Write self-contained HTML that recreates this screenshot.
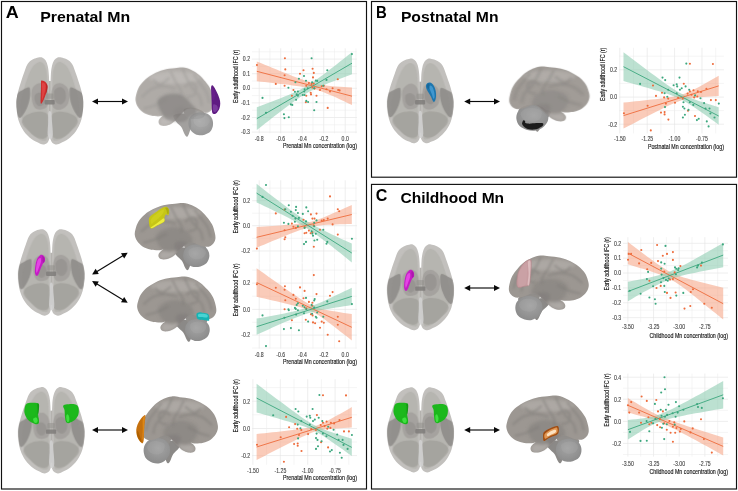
<!DOCTYPE html>
<html><head><meta charset="utf-8"><title>Figure</title>
<style>
html,body{margin:0;padding:0;background:#fff;}
body{width:738px;height:491px;overflow:hidden;font-family:"Liberation Sans",sans-serif;}
svg{display:block;}
text{font-family:"Liberation Sans",sans-serif;opacity:0.999;}
.tk{font-size:6.3px;fill:#444;stroke:#444;stroke-width:0.12px;}
.ax{font-size:6.8px;fill:#111;stroke:#111;stroke-width:0.14px;}
.ttl{font-weight:bold;fill:#000;}
</style></head><body>
<svg width="738" height="491" viewBox="0 0 738 491">
<defs>
<filter id="b1" x="-10%" y="-10%" width="120%" height="120%"><feGaussianBlur stdDeviation="0.45"/></filter>
<filter id="b2" x="-20%" y="-20%" width="140%" height="140%"><feGaussianBlur stdDeviation="1.1"/></filter>
<filter id="b3" x="-30%" y="-30%" width="160%" height="160%"><feGaussianBlur stdDeviation="2.2"/></filter>
<filter id="bb2" x="-10%" y="-10%" width="120%" height="120%"><feGaussianBlur stdDeviation="3"/></filter>
<filter id="bb25" x="-20%" y="-20%" width="140%" height="140%"><feGaussianBlur stdDeviation="5.5"/></filter>
<filter id="bb3" x="-30%" y="-30%" width="160%" height="160%"><feGaussianBlur stdDeviation="11"/></filter>
<filter id="bt" x="-5%" y="-5%" width="110%" height="110%"><feGaussianBlur stdDeviation="0.25"/></filter>
<radialGradient id="cbg" cx="0.45" cy="0.4" r="0.7"><stop offset="0" stop-color="#a4a4a4"/><stop offset="1" stop-color="#888888"/></radialGradient>
</defs>
<rect x="0" y="0" width="738" height="491" fill="#fff"/>

<g fill="none" stroke="#111" stroke-width="1.15">
<rect x="1.5" y="1.5" width="365" height="487.5"/>
<rect x="371.5" y="1.5" width="365" height="175.7"/>
<rect x="371.5" y="184.4" width="365" height="304.6"/>
</g>
<text class="ttl" x="5.7" y="18.4" font-size="15.8" textLength="13.0" lengthAdjust="spacingAndGlyphs">A</text>
<text class="ttl" x="40.2" y="22.0" font-size="15.2" textLength="89.9" lengthAdjust="spacingAndGlyphs">Prenatal Mn</text>
<text class="ttl" x="375.9" y="18.0" font-size="15.8" textLength="10.8" lengthAdjust="spacingAndGlyphs">B</text>
<text class="ttl" x="400.9" y="22.0" font-size="15.2" textLength="97.6" lengthAdjust="spacingAndGlyphs">Postnatal Mn</text>
<text class="ttl" x="375.7" y="201.0" font-size="15.8" textLength="11.6" lengthAdjust="spacingAndGlyphs">C</text>
<text class="ttl" x="400.5" y="202.8" font-size="15.2" textLength="103.6" lengthAdjust="spacingAndGlyphs">Childhood Mn</text>
<defs>
<clipPath id="axclip"><path d="M135.00,12.00C128.00,12.83 117.83,15.83 110.00,19.00C102.17,22.17 94.67,25.50 88.00,31.00C81.33,36.50 75.67,41.67 70.00,52.00C64.33,62.33 59.67,77.33 54.00,93.00C48.33,108.67 41.50,128.67 36.00,146.00C30.50,163.33 25.00,179.67 21.00,197.00C17.00,214.33 13.00,232.67 12.00,250.00C11.00,267.33 12.67,283.67 15.00,301.00C17.33,318.33 19.83,336.67 26.00,354.00C32.17,371.33 40.83,389.50 52.00,405.00C63.17,420.50 80.00,436.67 93.00,447.00C106.00,457.33 119.67,462.17 130.00,467.00C140.33,471.83 147.00,476.17 155.00,476.00C163.00,475.83 172.33,472.00 178.00,466.00C183.67,460.00 187.00,451.00 189.00,440.00C191.00,429.00 190.17,423.33 190.00,400.00C189.83,376.67 188.33,333.33 188.00,300.00C187.67,266.67 188.33,231.67 188.00,200.00C187.67,168.33 187.33,133.33 186.00,110.00C184.67,86.67 183.00,73.67 180.00,60.00C177.00,46.33 172.67,35.67 168.00,28.00C163.33,20.33 157.50,16.67 152.00,14.00C146.50,11.33 142.00,11.17 135.00,12.00Z"/><path d="M247.00,12.00C254.00,12.83 264.17,15.83 272.00,19.00C279.83,22.17 287.33,25.50 294.00,31.00C300.67,36.50 306.33,41.67 312.00,52.00C317.67,62.33 322.33,77.33 328.00,93.00C333.67,108.67 340.50,128.67 346.00,146.00C351.50,163.33 357.00,179.67 361.00,197.00C365.00,214.33 369.00,232.67 370.00,250.00C371.00,267.33 369.33,283.67 367.00,301.00C364.67,318.33 362.17,336.67 356.00,354.00C349.83,371.33 341.17,389.50 330.00,405.00C318.83,420.50 302.00,436.67 289.00,447.00C276.00,457.33 262.33,462.17 252.00,467.00C241.67,471.83 235.00,476.17 227.00,476.00C219.00,475.83 209.67,472.00 204.00,466.00C198.33,460.00 195.00,451.00 193.00,440.00C191.00,429.00 191.83,423.33 192.00,400.00C192.17,376.67 193.67,333.33 194.00,300.00C194.33,266.67 193.67,231.67 194.00,200.00C194.33,168.33 194.67,133.33 196.00,110.00C197.33,86.67 199.00,73.67 202.00,60.00C205.00,46.33 209.33,35.67 214.00,28.00C218.67,20.33 224.50,16.67 230.00,14.00C235.50,11.33 240.00,11.17 247.00,12.00Z"/></clipPath>
<g id="axial">
<g filter="url(#bb2)">
<path d="M135.00,12.00C128.00,12.83 117.83,15.83 110.00,19.00C102.17,22.17 94.67,25.50 88.00,31.00C81.33,36.50 75.67,41.67 70.00,52.00C64.33,62.33 59.67,77.33 54.00,93.00C48.33,108.67 41.50,128.67 36.00,146.00C30.50,163.33 25.00,179.67 21.00,197.00C17.00,214.33 13.00,232.67 12.00,250.00C11.00,267.33 12.67,283.67 15.00,301.00C17.33,318.33 19.83,336.67 26.00,354.00C32.17,371.33 40.83,389.50 52.00,405.00C63.17,420.50 80.00,436.67 93.00,447.00C106.00,457.33 119.67,462.17 130.00,467.00C140.33,471.83 147.00,476.17 155.00,476.00C163.00,475.83 172.33,472.00 178.00,466.00C183.67,460.00 187.00,451.00 189.00,440.00C191.00,429.00 190.17,423.33 190.00,400.00C189.83,376.67 188.33,333.33 188.00,300.00C187.67,266.67 188.33,231.67 188.00,200.00C187.67,168.33 187.33,133.33 186.00,110.00C184.67,86.67 183.00,73.67 180.00,60.00C177.00,46.33 172.67,35.67 168.00,28.00C163.33,20.33 157.50,16.67 152.00,14.00C146.50,11.33 142.00,11.17 135.00,12.00Z" fill="#c2c0bd"/>
<path d="M247.00,12.00C254.00,12.83 264.17,15.83 272.00,19.00C279.83,22.17 287.33,25.50 294.00,31.00C300.67,36.50 306.33,41.67 312.00,52.00C317.67,62.33 322.33,77.33 328.00,93.00C333.67,108.67 340.50,128.67 346.00,146.00C351.50,163.33 357.00,179.67 361.00,197.00C365.00,214.33 369.00,232.67 370.00,250.00C371.00,267.33 369.33,283.67 367.00,301.00C364.67,318.33 362.17,336.67 356.00,354.00C349.83,371.33 341.17,389.50 330.00,405.00C318.83,420.50 302.00,436.67 289.00,447.00C276.00,457.33 262.33,462.17 252.00,467.00C241.67,471.83 235.00,476.17 227.00,476.00C219.00,475.83 209.67,472.00 204.00,466.00C198.33,460.00 195.00,451.00 193.00,440.00C191.00,429.00 191.83,423.33 192.00,400.00C192.17,376.67 193.67,333.33 194.00,300.00C194.33,266.67 193.67,231.67 194.00,200.00C194.33,168.33 194.67,133.33 196.00,110.00C197.33,86.67 199.00,73.67 202.00,60.00C205.00,46.33 209.33,35.67 214.00,28.00C218.67,20.33 224.50,16.67 230.00,14.00C235.50,11.33 240.00,11.17 247.00,12.00Z" fill="#c2c0bd"/>
<rect x="186" y="138" width="10" height="280" fill="#b4b2ae"/>
</g>
<g clip-path="url(#axclip)">
<g filter="url(#bb2)">
<path d="M130.00,38.00C122.33,40.67 111.33,48.17 104.00,56.00C96.67,63.83 91.67,73.50 86.00,85.00C80.33,96.50 75.33,110.00 70.00,125.00C64.67,140.00 59.00,158.33 54.00,175.00C49.00,191.67 43.33,209.17 40.00,225.00C36.67,240.83 34.33,254.17 34.00,270.00C33.67,285.83 35.00,304.17 38.00,320.00C41.00,335.83 45.00,350.83 52.00,365.00C59.00,379.17 69.00,392.83 80.00,405.00C91.00,417.17 105.50,429.67 118.00,438.00C130.50,446.33 145.33,455.33 155.00,455.00C164.67,454.67 172.17,461.83 176.00,436.00C179.83,410.17 178.00,352.67 178.00,300.00C178.00,247.33 178.00,159.67 176.00,120.00C174.00,80.33 170.33,75.33 166.00,62.00C161.67,48.67 156.00,44.00 150.00,40.00C144.00,36.00 137.67,35.33 130.00,38.00Z" fill="#b3b1ad" opacity="0.8"/>
<path d="M252.00,38.00C259.67,40.67 270.67,48.17 278.00,56.00C285.33,63.83 290.33,73.50 296.00,85.00C301.67,96.50 306.67,110.00 312.00,125.00C317.33,140.00 323.00,158.33 328.00,175.00C333.00,191.67 338.67,209.17 342.00,225.00C345.33,240.83 347.67,254.17 348.00,270.00C348.33,285.83 347.00,304.17 344.00,320.00C341.00,335.83 337.00,350.83 330.00,365.00C323.00,379.17 313.00,392.83 302.00,405.00C291.00,417.17 276.50,429.67 264.00,438.00C251.50,446.33 236.67,455.33 227.00,455.00C217.33,454.67 209.83,461.83 206.00,436.00C202.17,410.17 204.00,352.67 204.00,300.00C204.00,247.33 204.00,159.67 206.00,120.00C208.00,80.33 211.67,75.33 216.00,62.00C220.33,48.67 226.00,44.00 232.00,40.00C238.00,36.00 244.33,35.33 252.00,38.00Z" fill="#b3b1ad" opacity="0.8"/>
<path d="M16.00,208.00C21.83,195.33 34.33,192.00 45.00,186.00C55.67,180.00 73.17,169.33 80.00,172.00C86.83,174.67 85.50,191.67 86.00,202.00C86.50,212.33 84.83,223.50 83.00,234.00C81.17,244.50 78.50,254.83 75.00,265.00C71.50,275.17 66.83,285.83 62.00,295.00C57.17,304.17 51.33,313.50 46.00,320.00C40.67,326.50 34.67,334.33 30.00,334.00C25.33,333.67 21.33,330.00 18.00,318.00C14.67,306.00 10.33,280.33 10.00,262.00C9.67,243.67 10.17,220.67 16.00,208.00Z" fill="#8a8885" opacity="0.82"/>
<path d="M366.00,208.00C360.17,195.33 347.67,192.00 337.00,186.00C326.33,180.00 308.83,169.33 302.00,172.00C295.17,174.67 296.50,191.67 296.00,202.00C295.50,212.33 297.17,223.50 299.00,234.00C300.83,244.50 303.50,254.83 307.00,265.00C310.50,275.17 315.17,285.83 320.00,295.00C324.83,304.17 330.67,313.50 336.00,320.00C341.33,326.50 347.33,334.33 352.00,334.00C356.67,333.67 360.67,330.00 364.00,318.00C367.33,306.00 371.67,280.33 372.00,262.00C372.33,243.67 371.83,220.67 366.00,208.00Z" fill="#8a8885" opacity="0.82"/>
<path d="M42.00,348.00C44.33,339.67 51.50,329.33 62.00,322.00C72.50,314.67 90.33,307.33 105.00,304.00C119.67,300.67 137.17,299.33 150.00,302.00C162.83,304.67 175.67,308.67 182.00,320.00C188.33,331.33 188.00,352.50 188.00,370.00C188.00,387.50 187.50,412.33 182.00,425.00C176.50,437.67 166.67,444.50 155.00,446.00C143.33,447.50 125.50,441.67 112.00,434.00C98.50,426.33 84.67,410.33 74.00,400.00C63.33,389.67 53.33,380.67 48.00,372.00C42.67,363.33 39.67,356.33 42.00,348.00Z" fill="#9b9995" opacity="0.6"/>
<path d="M340.00,348.00C337.67,339.67 330.50,329.33 320.00,322.00C309.50,314.67 291.67,307.33 277.00,304.00C262.33,300.67 244.83,299.33 232.00,302.00C219.17,304.67 206.33,308.67 200.00,320.00C193.67,331.33 194.00,352.50 194.00,370.00C194.00,387.50 194.50,412.33 200.00,425.00C205.50,437.67 215.33,444.50 227.00,446.00C238.67,447.50 256.50,441.67 270.00,434.00C283.50,426.33 297.33,410.33 308.00,400.00C318.67,389.67 328.67,380.67 334.00,372.00C339.33,363.33 342.33,356.33 340.00,348.00Z" fill="#9b9995" opacity="0.6"/>
<path d="M95.00,185.00C99.17,170.83 110.83,160.83 120.00,155.00C129.17,149.17 140.83,146.67 150.00,150.00C159.17,153.33 169.17,161.67 175.00,175.00C180.83,188.33 185.00,213.33 185.00,230.00C185.00,246.67 182.50,265.00 175.00,275.00C167.50,285.00 150.83,289.17 140.00,290.00C129.17,290.83 117.50,288.33 110.00,280.00C102.50,271.67 97.50,255.83 95.00,240.00C92.50,224.17 90.83,199.17 95.00,185.00Z" fill="#a09e9a" opacity="0.8"/>
<path d="M200.00,200.00C202.50,185.00 206.67,168.33 215.00,160.00C223.33,151.67 238.33,147.50 250.00,150.00C261.67,152.50 277.50,163.33 285.00,175.00C292.50,186.67 295.00,205.00 295.00,220.00C295.00,235.00 292.50,253.33 285.00,265.00C277.50,276.67 261.67,286.67 250.00,290.00C238.33,293.33 223.33,291.67 215.00,285.00C206.67,278.33 202.50,264.17 200.00,250.00C197.50,235.83 197.50,215.00 200.00,200.00Z" fill="#a09e9a" opacity="0.8"/>
<path d="M110.00,215.00C113.33,205.83 126.67,200.00 135.00,200.00C143.33,200.00 155.00,206.67 160.00,215.00C165.00,223.33 168.33,240.50 165.00,250.00C161.67,259.50 148.33,271.17 140.00,272.00C131.67,272.83 120.00,264.50 115.00,255.00C110.00,245.50 106.67,224.17 110.00,215.00Z" fill="#8f8d8a" opacity="0.6"/>
<path d="M215.00,190.00C219.17,177.50 235.50,170.00 245.00,170.00C254.50,170.00 267.00,179.17 272.00,190.00C277.00,200.83 278.67,223.00 275.00,235.00C271.33,247.00 259.17,260.33 250.00,262.00C240.83,263.67 225.83,257.00 220.00,245.00C214.17,233.00 210.83,202.50 215.00,190.00Z" fill="#8f8d8a" opacity="0.6"/>
</g>
</g>
<g filter="url(#bb2)">
<path d="M184.00,305.00C186.67,295.83 194.83,295.83 198.00,305.00C201.17,314.17 201.50,340.00 203.00,360.00C204.50,380.00 208.33,410.33 207.00,425.00C205.67,439.67 199.50,448.00 195.00,448.00C190.50,448.00 182.17,439.67 180.00,425.00C177.83,410.33 181.33,380.00 182.00,360.00C182.67,340.00 181.33,314.17 184.00,305.00Z" fill="#d2d2d2" opacity="0.85"/>
<rect x="163" y="239" width="54" height="24" rx="5" fill="#7f7d7a" opacity="0.85"/>
<rect x="170" y="205" width="40" height="28" rx="6" fill="#8f8d8a" opacity="0.5"/>
</g>
</g>
</defs>
<defs>
<clipPath id="latclip"><path d="M30.00,240.00C28.33,226.67 30.83,215.00 35.00,200.00C39.17,185.00 45.00,165.83 55.00,150.00C65.00,134.17 79.17,118.33 95.00,105.00C110.83,91.67 130.00,80.00 150.00,70.00C170.00,60.00 191.67,50.83 215.00,45.00C238.33,39.17 268.33,37.50 290.00,35.00C311.67,32.50 326.67,28.33 345.00,30.00C363.33,31.67 382.50,37.50 400.00,45.00C417.50,52.50 434.17,62.50 450.00,75.00C465.83,87.50 481.67,104.17 495.00,120.00C508.33,135.83 521.17,152.50 530.00,170.00C538.83,187.50 544.33,209.17 548.00,225.00C551.67,240.83 553.33,253.33 552.00,265.00C550.67,276.67 545.33,287.17 540.00,295.00C534.67,302.83 527.50,308.17 520.00,312.00C512.50,315.83 505.00,318.00 495.00,318.00C485.00,318.00 470.83,315.00 460.00,312.00C449.17,309.00 440.00,303.67 430.00,300.00C420.00,296.33 410.00,290.83 400.00,290.00C390.00,289.17 380.00,290.00 370.00,295.00C360.00,300.00 350.00,310.83 340.00,320.00C330.00,329.17 321.67,339.17 310.00,350.00C298.33,360.83 283.33,376.67 270.00,385.00C256.67,393.33 241.67,397.83 230.00,400.00C218.33,402.17 207.50,400.50 200.00,398.00C192.50,395.50 187.50,390.50 185.00,385.00C182.50,379.50 182.50,371.67 185.00,365.00C187.50,358.33 195.00,350.00 200.00,345.00C205.00,340.00 218.33,335.83 215.00,335.00C211.67,334.17 194.17,340.00 180.00,340.00C165.83,340.00 146.67,339.17 130.00,335.00C113.33,330.83 94.17,324.17 80.00,315.00C65.83,305.83 53.33,292.50 45.00,280.00C36.67,267.50 31.67,253.33 30.00,240.00Z"/></clipPath>
<g id="lateral">
<g filter="url(#bb2)">
<path d="M30.00,240.00C28.33,226.67 30.83,215.00 35.00,200.00C39.17,185.00 45.00,165.83 55.00,150.00C65.00,134.17 79.17,118.33 95.00,105.00C110.83,91.67 130.00,80.00 150.00,70.00C170.00,60.00 191.67,50.83 215.00,45.00C238.33,39.17 268.33,37.50 290.00,35.00C311.67,32.50 326.67,28.33 345.00,30.00C363.33,31.67 382.50,37.50 400.00,45.00C417.50,52.50 434.17,62.50 450.00,75.00C465.83,87.50 481.67,104.17 495.00,120.00C508.33,135.83 521.17,152.50 530.00,170.00C538.83,187.50 544.33,209.17 548.00,225.00C551.67,240.83 553.33,253.33 552.00,265.00C550.67,276.67 545.33,287.17 540.00,295.00C534.67,302.83 527.50,308.17 520.00,312.00C512.50,315.83 505.00,318.00 495.00,318.00C485.00,318.00 470.83,315.00 460.00,312.00C449.17,309.00 440.00,303.67 430.00,300.00C420.00,296.33 410.00,290.83 400.00,290.00C390.00,289.17 380.00,290.00 370.00,295.00C360.00,300.00 350.00,310.83 340.00,320.00C330.00,329.17 321.67,339.17 310.00,350.00C298.33,360.83 283.33,376.67 270.00,385.00C256.67,393.33 241.67,397.83 230.00,400.00C218.33,402.17 207.50,400.50 200.00,398.00C192.50,395.50 187.50,390.50 185.00,385.00C182.50,379.50 182.50,371.67 185.00,365.00C187.50,358.33 195.00,350.00 200.00,345.00C205.00,340.00 218.33,335.83 215.00,335.00C211.67,334.17 194.17,340.00 180.00,340.00C165.83,340.00 146.67,339.17 130.00,335.00C113.33,330.83 94.17,324.17 80.00,315.00C65.83,305.83 53.33,292.50 45.00,280.00C36.67,267.50 31.67,253.33 30.00,240.00Z" fill="#9c9792"/>
</g>
<g clip-path="url(#latclip)">
<g filter="url(#bb3)">
<path d="M170.00,240.00C176.67,223.33 198.33,208.33 220.00,200.00C241.67,191.67 275.00,187.50 300.00,190.00C325.00,192.50 353.33,203.33 370.00,215.00C386.67,226.67 395.00,245.83 400.00,260.00C405.00,274.17 405.00,286.67 400.00,300.00C395.00,313.33 381.67,328.33 370.00,340.00C358.33,351.67 345.00,360.83 330.00,370.00C315.00,379.17 298.33,390.00 280.00,395.00C261.67,400.00 235.00,402.50 220.00,400.00C205.00,397.50 191.67,390.00 190.00,380.00C188.33,370.00 211.67,353.33 210.00,340.00C208.33,326.67 186.67,316.67 180.00,300.00C173.33,283.33 163.33,256.67 170.00,240.00Z" fill="#85827f" opacity="0.6"/>
<path d="M285.00,300.00C290.83,288.33 314.17,280.00 330.00,280.00C345.83,280.00 370.00,286.67 380.00,300.00C390.00,313.33 393.33,340.00 390.00,360.00C386.67,380.00 371.67,413.33 360.00,420.00C348.33,426.67 330.83,411.67 320.00,400.00C309.17,388.33 300.83,366.67 295.00,350.00C289.17,333.33 279.17,311.67 285.00,300.00Z" fill="#7d7a78" opacity="0.55"/>
<path d="M188.00,370.00C190.50,361.67 203.00,348.33 215.00,345.00C227.00,341.67 245.83,350.00 260.00,350.00C274.17,350.00 296.67,340.00 300.00,345.00C303.33,350.00 290.83,371.17 280.00,380.00C269.17,388.83 248.33,395.50 235.00,398.00C221.67,400.50 207.83,399.67 200.00,395.00C192.17,390.33 185.50,378.33 188.00,370.00Z" fill="#bab7b3" opacity="0.7"/>
<ellipse cx="290" cy="95" rx="170" ry="40" fill="#bdbab6" opacity="0.5"/>
</g>
<g filter="url(#bb25)" fill="none" stroke="#7d7a77" stroke-width="15" opacity="0.42" stroke-linecap="round">
<path d="M75.00,215.00C85.83,206.67 115.83,175.83 140.00,165.00C164.17,154.17 195.00,150.00 220.00,150.00C245.00,150.00 278.33,162.50 290.00,165.00"/>
<path d="M265.00,60.00C270.00,70.00 284.17,100.83 295.00,120.00C305.83,139.17 323.33,159.17 330.00,175.00C336.67,190.83 334.17,208.33 335.00,215.00"/>
<path d="M345.00,45.00C349.17,54.17 360.00,80.83 370.00,100.00C380.00,119.17 390.83,140.83 405.00,160.00C419.17,179.17 444.17,196.67 455.00,215.00C465.83,233.33 467.50,260.83 470.00,270.00"/>
<path d="M90.00,290.00C101.67,286.67 136.67,279.17 160.00,270.00C183.33,260.83 218.33,240.83 230.00,235.00"/>
<path d="M420.00,80.00C425.83,87.50 441.67,107.50 455.00,125.00C468.33,142.50 489.17,164.17 500.00,185.00C510.83,205.83 516.67,239.17 520.00,250.00"/>
<path d="M360.00,150.00C365.83,145.83 383.33,125.00 395.00,125.00C406.67,125.00 425.00,137.50 430.00,150.00C435.00,162.50 432.50,189.17 425.00,200.00C417.50,210.83 391.67,212.50 385.00,215.00"/>
<path d="M150.00,110.00C156.67,115.00 173.33,141.67 190.00,140.00C206.67,138.33 240.00,106.67 250.00,100.00"/>
</g>
</g>
</g>
<g id="latstem" filter="url(#bb2)"><path d="M282.00,335.00C287.83,326.17 317.83,322.00 335.00,322.00C352.17,322.00 374.17,324.50 385.00,335.00C395.83,345.50 398.83,369.17 400.00,385.00C401.17,400.83 396.33,415.83 392.00,430.00C387.67,444.17 380.00,465.83 374.00,470.00C368.00,474.17 362.50,465.00 356.00,455.00C349.50,445.00 344.33,423.33 335.00,410.00C325.67,396.67 308.83,387.50 300.00,375.00C291.17,362.50 276.17,343.83 282.00,335.00Z" fill="#8b8987"/><path d="M350.00,300.00C355.00,289.50 381.67,285.00 400.00,285.00C418.33,285.00 444.67,293.33 460.00,300.00C475.33,306.67 490.00,316.33 492.00,325.00C494.00,333.67 484.00,346.50 472.00,352.00C460.00,357.50 437.00,358.67 420.00,358.00C403.00,357.33 381.67,357.67 370.00,348.00C358.33,338.33 345.00,310.50 350.00,300.00Z" fill="#918e8b"/></g>
<g id="latcbl" filter="url(#bb2)">
<path d="M350.00,340.00C355.83,327.50 366.67,316.67 380.00,310.00C393.33,303.33 414.17,300.00 430.00,300.00C445.83,300.00 462.50,303.33 475.00,310.00C487.50,316.67 498.83,328.33 505.00,340.00C511.17,351.67 513.67,366.67 512.00,380.00C510.33,393.33 504.50,409.67 495.00,420.00C485.50,430.33 469.17,437.83 455.00,442.00C440.83,446.17 424.17,447.83 410.00,445.00C395.83,442.17 380.83,435.00 370.00,425.00C359.17,415.00 348.33,399.17 345.00,385.00C341.67,370.83 344.17,352.50 350.00,340.00Z" fill="url(#cbg)"/>
<path d="M380.00,335.00C385.83,325.50 405.83,320.17 420.00,318.00C434.17,315.83 453.33,316.67 465.00,322.00C476.67,327.33 489.17,339.50 490.00,350.00C490.83,360.50 481.67,377.50 470.00,385.00C458.33,392.50 434.17,396.67 420.00,395.00C405.83,393.33 391.67,385.00 385.00,375.00C378.33,365.00 374.17,344.50 380.00,335.00Z" fill="#b0b0b0" opacity="0.25"/>
</g>
</defs>
<use href="#axial" transform="translate(16.30,57.30) scale(0.18743,0.18798) translate(-12,-12)" opacity="1.00"/>
<use href="#axial" transform="translate(18.00,229.30) scale(0.18603,0.18627) translate(-12,-12)" opacity="1.00"/>
<use href="#axial" transform="translate(18.00,387.20) scale(0.18603,0.18584) translate(-12,-12)" opacity="1.00"/>
<use href="#axial" transform="translate(387.00,58.70) scale(0.18603,0.18219) translate(-12,-12)" opacity="1.00"/>
<use href="#axial" transform="translate(387.00,244.40) scale(0.18715,0.18498) translate(-12,-12)" opacity="1.00"/>
<use href="#axial" transform="translate(387.00,387.40) scale(0.18715,0.18326) translate(-12,-12)" opacity="1.00"/>
<use href="#latstem" transform="translate(135.60,67.40) scale(0.15038,0.15750) translate(-30,-30)" opacity="0.80"/>
<use href="#latcbl" transform="translate(188.60,112.30) scale(0.14611,0.15724) translate(-345,-300)" opacity="0.90"/>
<use href="#lateral" transform="translate(135.60,67.40) scale(0.15038,0.15750) translate(-30,-30)" opacity="0.80"/>
<use href="#latstem" transform="translate(134.80,203.00) scale(0.15441,0.15227) translate(-30,-30)" opacity="1.00"/>
<use href="#latcbl" transform="translate(183.40,244.50) scale(0.15509,0.15448) translate(-345,-300)" opacity="1.00"/>
<use href="#lateral" transform="translate(134.80,203.00) scale(0.15441,0.15227) translate(-30,-30)" opacity="1.00"/>
<use href="#latstem" transform="translate(137.20,276.50) scale(0.15153,0.14818) translate(-30,-30)" opacity="1.00"/>
<use href="#latcbl" transform="translate(185.30,318.90) scale(0.14611,0.15172) translate(-345,-300)" opacity="1.00"/>
<use href="#lateral" transform="translate(137.20,276.50) scale(0.15153,0.14818) translate(-30,-30)" opacity="1.00"/>
<use href="#latstem" transform="translate(217.90,396.40) scale(-0.14636,0.15182) translate(-30,-30)" opacity="1.00"/>
<use href="#latcbl" transform="translate(169.80,438.00) scale(-0.15629,0.17379) translate(-345,-300)" opacity="1.00"/>
<use href="#lateral" transform="translate(217.90,396.40) scale(-0.14636,0.15182) translate(-30,-30)" opacity="1.00"/>
<use href="#latstem" transform="translate(589.50,66.40) scale(-0.15364,0.14818) translate(-30,-30)" opacity="0.95"/>
<use href="#latcbl" transform="translate(548.10,104.90) scale(-0.18982,0.17655) translate(-345,-300)" opacity="1.00"/>
<use href="#lateral" transform="translate(589.50,66.40) scale(-0.15364,0.14818) translate(-30,-30)" opacity="0.95"/>
<use href="#latstem" transform="translate(588.70,255.50) scale(-0.15287,0.14636) translate(-30,-30)" opacity="1.00"/>
<use href="#latcbl" transform="translate(542.30,296.00) scale(-0.16108,0.16483) translate(-345,-300)" opacity="1.00"/>
<use href="#lateral" transform="translate(588.70,255.50) scale(-0.15287,0.14636) translate(-30,-30)" opacity="1.00"/>
<use href="#latstem" transform="translate(506.40,395.60) scale(0.15766,0.15364) translate(-30,-30)" opacity="1.00"/>
<use href="#latcbl" transform="translate(556.10,438.80) scale(0.15150,0.15724) translate(-345,-300)" opacity="1.00"/>
<use href="#lateral" transform="translate(506.40,395.60) scale(0.15766,0.15364) translate(-30,-30)" opacity="1.00"/>
<g filter="url(#b2)" opacity="0.5">
<path d="M158.41,100.04C159.50,98.00 162.62,96.10 165.74,95.15C168.87,94.20 174.03,93.93 177.15,94.34C180.27,94.74 182.31,96.10 184.49,97.59C186.66,99.09 188.42,101.67 190.19,103.30C191.95,104.93 194.10,105.74 195.08,107.37C196.06,109.00 196.87,111.58 196.06,113.08C195.24,114.57 191.85,115.11 190.19,116.34C188.53,117.56 187.74,119.46 186.11,120.41C184.49,121.36 182.72,121.90 180.41,122.04C178.10,122.18 174.71,121.77 172.26,121.23C169.82,120.68 167.43,120.14 165.74,118.78C164.06,117.42 163.24,114.98 162.16,113.08C161.07,111.18 159.85,109.55 159.22,107.37C158.60,105.20 157.32,102.08 158.41,100.04Z" fill="#807d7a"/>
</g>
<g filter="url(#b1)">
<path d="M41.41,80.59C41.89,80.39 43.04,80.59 43.85,81.00C44.67,81.41 45.69,82.22 46.30,83.04C46.91,83.85 47.39,84.67 47.52,85.89C47.66,87.11 47.45,88.81 47.11,90.37C46.78,91.94 46.10,93.63 45.48,95.26C44.87,96.89 44.13,98.77 43.45,100.15C42.77,101.54 41.89,103.17 41.41,103.58C40.93,103.99 40.70,104.12 40.59,102.60C40.49,101.08 40.69,97.17 40.76,94.45C40.83,91.73 40.96,88.34 41.00,86.30C41.04,84.26 40.93,83.18 41.00,82.22C41.07,81.27 40.93,80.80 41.41,80.59Z" fill="#cf2e2e"/>
<path d="M42.22,83.04C42.70,81.89 44.53,83.31 45.08,84.26C45.62,85.21 45.76,86.78 45.48,88.74C45.21,90.71 44.02,94.18 43.45,96.08C42.88,97.98 42.27,100.97 42.06,100.15C41.86,99.34 42.20,94.04 42.22,91.19C42.25,88.34 41.75,84.19 42.22,83.04Z" fill="#e34a4a" opacity="0.80" filter="url(#b1)"/>
<path d="M46.30,83.85C46.49,83.45 47.33,85.15 47.44,86.30C47.55,87.45 47.21,89.56 46.95,90.78C46.69,92.00 46.00,93.97 45.89,93.63C45.78,93.30 46.23,90.37 46.30,88.74C46.37,87.11 46.11,84.26 46.30,83.85Z" fill="#a82222" opacity="0.70" filter="url(#b1)"/>
</g>
<g filter="url(#b1)">
<path d="M211.79,85.38C212.25,85.21 212.98,85.55 213.83,86.70C214.68,87.86 215.95,90.35 216.88,92.30C217.82,94.25 218.87,96.54 219.43,98.41C219.99,100.28 220.24,101.80 220.24,103.50C220.24,105.20 219.99,107.06 219.43,108.59C218.87,110.11 217.73,111.78 216.88,112.66C216.03,113.54 215.10,113.88 214.34,113.88C213.58,113.88 212.73,113.71 212.30,112.66C211.88,111.61 211.91,109.61 211.79,107.57C211.68,105.53 211.68,102.82 211.59,100.45C211.51,98.07 211.37,95.44 211.28,93.32C211.20,91.20 211.00,89.05 211.08,87.72C211.17,86.40 211.34,85.55 211.79,85.38Z" fill="#5f1b82"/>
<path d="M213.32,104.52C213.95,103.67 216.12,104.77 216.88,105.53C217.65,106.30 218.16,107.99 217.90,109.10C217.65,110.20 216.15,111.90 215.36,112.15C214.56,112.40 213.46,111.90 213.12,110.62C212.78,109.35 212.69,105.36 213.32,104.52Z" fill="#8444a6" opacity="0.75" filter="url(#b1)"/>
<path d="M212.30,88.23C212.69,87.04 214.51,90.44 214.85,92.30C215.19,94.17 214.73,98.24 214.34,99.43C213.95,100.61 212.85,101.29 212.51,99.43C212.17,97.56 211.91,89.42 212.30,88.23Z" fill="#6d2391" opacity="0.60" filter="url(#b1)"/>
</g>
<g filter="url(#b1)">
<path d="M40.07,255.18C40.95,254.53 41.77,254.60 42.52,254.94C43.26,255.28 44.14,256.23 44.55,257.22C44.96,258.21 45.16,259.87 44.96,260.89C44.76,261.90 43.87,262.45 43.33,263.33C42.79,264.21 42.24,265.03 41.70,266.18C41.16,267.34 40.61,268.90 40.07,270.25C39.53,271.61 38.99,273.38 38.44,274.33C37.90,275.28 37.36,276.03 36.81,275.96C36.27,275.89 35.50,275.01 35.18,273.92C34.87,272.83 34.87,271.07 34.94,269.44C35.01,267.81 35.21,265.91 35.59,264.14C35.97,262.38 36.47,260.34 37.22,258.85C37.97,257.36 39.19,255.84 40.07,255.18Z" fill="#c51fc5"/>
<path d="M38.03,259.66C38.65,258.71 40.00,257.63 40.48,258.03C40.95,258.44 41.16,260.48 40.89,262.11C40.61,263.74 39.53,266.05 38.85,267.81C38.17,269.58 37.29,272.43 36.81,272.70C36.34,272.97 36.00,270.93 36.00,269.44C36.00,267.95 36.47,265.37 36.81,263.74C37.15,262.11 37.42,260.61 38.03,259.66Z" fill="#ea4cea" opacity="0.85" filter="url(#b1)"/>
<path d="M42.52,256.00C42.87,255.66 44.05,256.81 44.39,257.63C44.73,258.44 44.77,260.03 44.55,260.89C44.33,261.74 43.47,262.96 43.09,262.76C42.71,262.56 42.37,260.79 42.27,259.66C42.18,258.54 42.16,256.34 42.52,256.00Z" fill="#a517a5" opacity="0.70" filter="url(#b1)"/>
</g>
<g filter="url(#b1)" transform="translate(369.19,15.00)">
<path d="M40.07,255.18C40.95,254.53 41.77,254.60 42.52,254.94C43.26,255.28 44.14,256.23 44.55,257.22C44.96,258.21 45.16,259.87 44.96,260.89C44.76,261.90 43.87,262.45 43.33,263.33C42.79,264.21 42.24,265.03 41.70,266.18C41.16,267.34 40.61,268.90 40.07,270.25C39.53,271.61 38.99,273.38 38.44,274.33C37.90,275.28 37.36,276.03 36.81,275.96C36.27,275.89 35.50,275.01 35.18,273.92C34.87,272.83 34.87,271.07 34.94,269.44C35.01,267.81 35.21,265.91 35.59,264.14C35.97,262.38 36.47,260.34 37.22,258.85C37.97,257.36 39.19,255.84 40.07,255.18Z" fill="#c51fc5"/>
<path d="M38.03,259.66C38.65,258.71 40.00,257.63 40.48,258.03C40.95,258.44 41.16,260.48 40.89,262.11C40.61,263.74 39.53,266.05 38.85,267.81C38.17,269.58 37.29,272.43 36.81,272.70C36.34,272.97 36.00,270.93 36.00,269.44C36.00,267.95 36.47,265.37 36.81,263.74C37.15,262.11 37.42,260.61 38.03,259.66Z" fill="#ea4cea" opacity="0.85" filter="url(#b1)"/>
<path d="M42.52,256.00C42.87,255.66 44.05,256.81 44.39,257.63C44.73,258.44 44.77,260.03 44.55,260.89C44.33,261.74 43.47,262.96 43.09,262.76C42.71,262.56 42.37,260.79 42.27,259.66C42.18,258.54 42.16,256.34 42.52,256.00Z" fill="#a517a5" opacity="0.70" filter="url(#b1)"/>
</g>
<g filter="url(#b1)">
<path d="M149.37,217.52C150.29,215.75 152.83,214.46 154.66,213.03C156.50,211.61 158.74,209.98 160.37,208.96C162.00,207.94 163.29,207.22 164.44,206.92C165.59,206.63 166.54,206.76 167.29,207.17C168.04,207.58 168.61,208.39 168.92,209.37C169.23,210.35 169.30,212.02 169.16,213.03C169.03,214.05 168.62,215.27 168.11,215.48C167.59,215.68 166.68,213.92 166.07,214.26C165.46,214.60 164.71,216.29 164.44,217.52C164.17,218.74 164.98,220.57 164.44,221.59C163.90,222.61 162.54,222.88 161.18,223.63C159.82,224.37 157.79,225.25 156.29,226.07C154.80,226.88 153.24,228.24 152.22,228.51C151.20,228.78 150.70,228.51 150.18,227.70C149.67,226.88 149.26,225.32 149.12,223.63C148.99,221.93 148.45,219.28 149.37,217.52Z" fill="#c6c618"/>
<path d="M151.00,227.29C151.68,226.54 154.60,224.85 156.29,223.63C157.99,222.40 159.89,220.84 161.18,219.96C162.47,219.08 163.52,218.13 164.03,218.33C164.55,218.53 164.82,220.33 164.28,221.18C163.73,222.04 162.17,222.67 160.77,223.46C159.38,224.25 157.31,225.13 155.89,225.91C154.46,226.68 153.03,227.88 152.22,228.11C151.41,228.34 150.32,228.04 151.00,227.29Z" fill="#f2f244" opacity="0.90" filter="url(#b1)"/>
<path d="M165.25,207.74C165.46,207.26 167.10,207.33 167.70,207.74C168.30,208.15 168.68,209.23 168.84,210.18C169.00,211.13 168.93,212.83 168.68,213.44C168.42,214.05 167.66,214.32 167.29,213.85C166.92,213.37 166.82,211.61 166.48,210.59C166.14,209.57 165.05,208.21 165.25,207.74Z" fill="#a3a30f" opacity="0.70" filter="url(#b1)"/>
<path d="M151.41,218.74C152.63,216.84 156.70,213.71 158.74,212.22C160.77,210.73 163.08,209.37 163.63,209.78C164.17,210.18 163.49,212.76 162.00,214.66C160.50,216.56 156.43,219.69 154.66,221.18C152.90,222.67 151.95,224.03 151.41,223.63C150.86,223.22 150.18,220.64 151.41,218.74Z" fill="#d4d422" opacity="0.70" filter="url(#b1)"/>
</g>
<g filter="url(#b1)">
<path d="M197.22,313.03C198.03,312.59 199.66,312.32 201.29,312.38C202.92,312.45 205.75,312.99 207.00,313.44C208.25,313.89 208.41,314.12 208.79,315.07C209.17,316.02 209.30,318.19 209.28,319.14C209.25,320.10 209.41,320.60 208.63,320.77C207.84,320.95 206.18,320.41 204.55,320.20C202.92,320.00 200.10,319.93 198.85,319.55C197.60,319.17 197.46,318.67 197.06,317.92C196.65,317.18 196.38,315.89 196.41,315.07C196.43,314.26 196.41,313.48 197.22,313.03Z" fill="#17b3b3"/>
<path d="M198.44,314.26C199.32,313.78 202.24,313.71 203.74,313.85C205.23,313.99 206.86,314.46 207.40,315.07C207.95,315.68 208.01,317.18 207.00,317.52C205.98,317.85 202.72,317.24 201.29,317.11C199.87,316.97 198.92,317.18 198.44,316.70C197.97,316.23 197.56,314.73 198.44,314.26Z" fill="#55dcdc" opacity="0.80" filter="url(#b1)"/>
</g>
<g filter="url(#b1)">
<path d="M26.61,403.81C27.71,403.04 29.76,402.90 31.45,402.75C33.14,402.60 35.49,402.68 36.73,402.93C37.98,403.18 38.57,403.22 38.94,404.25C39.30,405.28 39.08,407.40 38.94,409.09C38.79,410.78 38.06,412.61 38.06,414.38C38.06,416.14 38.86,418.12 38.94,419.66C39.01,421.20 39.16,422.92 38.50,423.62C37.84,424.33 36.29,424.18 34.97,423.89C33.65,423.59 31.96,422.86 30.57,421.86C29.17,420.86 27.63,419.44 26.61,417.90C25.58,416.36 24.70,414.38 24.40,412.61C24.11,410.85 24.48,408.80 24.84,407.33C25.21,405.86 25.50,404.57 26.61,403.81Z" fill="#1eb61e"/>
<path d="M33.21,418.78C33.58,417.97 35.56,417.17 36.29,417.46C37.03,417.75 37.61,419.62 37.61,420.54C37.61,421.47 36.88,422.71 36.29,423.01C35.71,423.30 34.61,423.01 34.09,422.30C33.58,421.60 32.84,419.59 33.21,418.78Z" fill="#46e846" opacity="0.85" filter="url(#b1)"/>
<path d="M37.17,403.81C37.38,403.22 38.60,403.22 38.85,404.69C39.10,406.16 38.88,411.15 38.67,412.61C38.47,414.08 37.79,414.23 37.61,413.50C37.44,412.76 37.69,409.83 37.61,408.21C37.54,406.60 36.97,404.39 37.17,403.81Z" fill="#0f8a0f" opacity="0.70" filter="url(#b1)"/>
<path d="M27.05,405.57C28.29,404.32 31.74,403.81 33.21,404.25C34.68,404.69 35.71,406.38 35.85,408.21C36.00,410.05 35.27,413.94 34.09,415.26C32.92,416.58 30.20,416.73 28.81,416.14C27.41,415.55 26.02,413.50 25.72,411.73C25.43,409.97 25.80,406.82 27.05,405.57Z" fill="#22bf22" opacity="0.35" filter="url(#b1)"/>
</g>
<g filter="url(#b1)">
<path d="M63.60,405.13C64.45,404.61 66.61,404.39 68.44,404.25C70.28,404.10 73.06,403.95 74.61,404.25C76.15,404.54 76.98,405.06 77.69,406.01C78.39,406.96 78.76,408.43 78.83,409.97C78.91,411.51 78.76,413.64 78.13,415.26C77.50,416.87 76.29,418.49 75.05,419.66C73.80,420.84 71.82,421.72 70.64,422.30C69.47,422.89 68.81,423.33 68.00,423.18C67.19,423.04 66.31,422.60 65.80,421.42C65.29,420.25 65.14,418.05 64.92,416.14C64.70,414.23 64.74,411.44 64.48,409.97C64.21,408.50 63.48,408.14 63.33,407.33C63.19,406.52 62.75,405.64 63.60,405.13Z" fill="#1eb61e"/>
<path d="M66.24,416.14C66.39,414.89 67.49,414.08 68.00,414.38C68.51,414.67 69.18,416.73 69.32,417.90C69.47,419.07 69.25,420.76 68.88,421.42C68.51,422.08 67.56,422.74 67.12,421.86C66.68,420.98 66.09,417.39 66.24,416.14Z" fill="#46e846" opacity="0.85" filter="url(#b1)"/>
<path d="M69.32,405.57C70.50,404.69 74.17,404.84 75.49,405.57C76.81,406.30 77.25,408.21 77.25,409.97C77.25,411.73 76.51,414.96 75.49,416.14C74.46,417.31 72.26,417.90 71.08,417.02C69.91,416.14 68.73,412.76 68.44,410.85C68.15,408.95 68.15,406.45 69.32,405.57Z" fill="#22bf22" opacity="0.35" filter="url(#b1)"/>
</g>
<g filter="url(#b1)" transform="translate(369.10,0.00)">
<path d="M26.61,403.81C27.71,403.04 29.76,402.90 31.45,402.75C33.14,402.60 35.49,402.68 36.73,402.93C37.98,403.18 38.57,403.22 38.94,404.25C39.30,405.28 39.08,407.40 38.94,409.09C38.79,410.78 38.06,412.61 38.06,414.38C38.06,416.14 38.86,418.12 38.94,419.66C39.01,421.20 39.16,422.92 38.50,423.62C37.84,424.33 36.29,424.18 34.97,423.89C33.65,423.59 31.96,422.86 30.57,421.86C29.17,420.86 27.63,419.44 26.61,417.90C25.58,416.36 24.70,414.38 24.40,412.61C24.11,410.85 24.48,408.80 24.84,407.33C25.21,405.86 25.50,404.57 26.61,403.81Z" fill="#1eb61e"/>
<path d="M33.21,418.78C33.58,417.97 35.56,417.17 36.29,417.46C37.03,417.75 37.61,419.62 37.61,420.54C37.61,421.47 36.88,422.71 36.29,423.01C35.71,423.30 34.61,423.01 34.09,422.30C33.58,421.60 32.84,419.59 33.21,418.78Z" fill="#46e846" opacity="0.85" filter="url(#b1)"/>
<path d="M37.17,403.81C37.38,403.22 38.60,403.22 38.85,404.69C39.10,406.16 38.88,411.15 38.67,412.61C38.47,414.08 37.79,414.23 37.61,413.50C37.44,412.76 37.69,409.83 37.61,408.21C37.54,406.60 36.97,404.39 37.17,403.81Z" fill="#0f8a0f" opacity="0.70" filter="url(#b1)"/>
<path d="M27.05,405.57C28.29,404.32 31.74,403.81 33.21,404.25C34.68,404.69 35.71,406.38 35.85,408.21C36.00,410.05 35.27,413.94 34.09,415.26C32.92,416.58 30.20,416.73 28.81,416.14C27.41,415.55 26.02,413.50 25.72,411.73C25.43,409.97 25.80,406.82 27.05,405.57Z" fill="#22bf22" opacity="0.35" filter="url(#b1)"/>
</g>
<g filter="url(#b1)" transform="translate(369.10,0.00)">
<path d="M63.60,405.13C64.45,404.61 66.61,404.39 68.44,404.25C70.28,404.10 73.06,403.95 74.61,404.25C76.15,404.54 76.98,405.06 77.69,406.01C78.39,406.96 78.76,408.43 78.83,409.97C78.91,411.51 78.76,413.64 78.13,415.26C77.50,416.87 76.29,418.49 75.05,419.66C73.80,420.84 71.82,421.72 70.64,422.30C69.47,422.89 68.81,423.33 68.00,423.18C67.19,423.04 66.31,422.60 65.80,421.42C65.29,420.25 65.14,418.05 64.92,416.14C64.70,414.23 64.74,411.44 64.48,409.97C64.21,408.50 63.48,408.14 63.33,407.33C63.19,406.52 62.75,405.64 63.60,405.13Z" fill="#1eb61e"/>
<path d="M66.24,416.14C66.39,414.89 67.49,414.08 68.00,414.38C68.51,414.67 69.18,416.73 69.32,417.90C69.47,419.07 69.25,420.76 68.88,421.42C68.51,422.08 67.56,422.74 67.12,421.86C66.68,420.98 66.09,417.39 66.24,416.14Z" fill="#46e846" opacity="0.85" filter="url(#b1)"/>
<path d="M69.32,405.57C70.50,404.69 74.17,404.84 75.49,405.57C76.81,406.30 77.25,408.21 77.25,409.97C77.25,411.73 76.51,414.96 75.49,416.14C74.46,417.31 72.26,417.90 71.08,417.02C69.91,416.14 68.73,412.76 68.44,410.85C68.15,408.95 68.15,406.45 69.32,405.57Z" fill="#22bf22" opacity="0.35" filter="url(#b1)"/>
</g>
<g filter="url(#b1)">
<path d="M145.06,414.97C145.66,415.06 145.37,416.50 145.27,418.23C145.17,419.96 144.66,422.98 144.45,425.36C144.25,427.73 144.16,430.11 144.05,432.48C143.93,434.86 143.96,437.82 143.74,439.61C143.52,441.39 143.32,442.83 142.72,443.17C142.13,443.51 141.03,442.57 140.18,441.64C139.33,440.71 138.28,439.10 137.63,437.57C136.99,436.04 136.48,434.18 136.31,432.48C136.14,430.78 136.23,429.09 136.62,427.39C137.01,425.70 137.80,423.91 138.65,422.30C139.50,420.69 140.64,418.94 141.70,417.72C142.77,416.50 144.47,414.89 145.06,414.97Z" fill="#c56f0a"/>
<path d="M142.72,419.25C143.08,417.21 144.61,415.18 144.86,416.20C145.11,417.21 144.45,422.13 144.25,425.36C144.05,428.58 143.94,433.16 143.64,435.53C143.33,437.91 142.57,440.79 142.42,439.61C142.26,438.42 142.67,431.80 142.72,428.41C142.77,425.02 142.37,421.28 142.72,419.25Z" fill="#e38d1e" opacity="0.80" filter="url(#b1)"/>
<path d="M137.63,430.45C138.06,430.45 138.99,433.67 139.67,435.53C140.35,437.40 141.70,440.79 141.70,441.64C141.70,442.49 140.43,441.64 139.67,440.62C138.91,439.61 137.46,437.23 137.12,435.53C136.79,433.84 137.21,430.45 137.63,430.45Z" fill="#a85c06" opacity="0.70" filter="url(#b1)"/>
</g>
<g filter="url(#b1)">
<path d="M427.22,83.15C427.90,82.63 429.19,82.36 430.07,82.49C430.95,82.63 431.77,83.17 432.52,83.96C433.26,84.75 434.01,86.00 434.55,87.22C435.10,88.44 435.53,89.80 435.77,91.29C436.02,92.79 436.11,94.69 436.02,96.18C435.92,97.67 435.56,99.30 435.20,100.25C434.85,101.21 434.35,101.88 433.90,101.88C433.45,101.88 433.02,101.14 432.52,100.25C432.01,99.37 431.56,97.88 430.89,96.59C430.21,95.30 429.19,93.81 428.44,92.52C427.70,91.23 426.81,90.00 426.41,88.85C426.00,87.70 425.86,86.54 426.00,85.59C426.13,84.64 426.54,83.66 427.22,83.15Z" fill="#1f76ae"/>
<path d="M430.07,85.59C430.55,85.32 431.84,86.13 432.52,87.22C433.19,88.31 433.81,90.48 434.14,92.11C434.48,93.74 434.69,95.91 434.55,97.00C434.42,98.08 433.81,99.17 433.33,98.63C432.85,98.08 432.31,95.37 431.70,93.74C431.09,92.11 429.94,90.21 429.66,88.85C429.39,87.49 429.60,85.86 430.07,85.59Z" fill="#4aa0d8" opacity="0.80" filter="url(#b1)"/>
<path d="M427.22,84.37C427.56,83.69 428.99,83.21 429.26,83.96C429.53,84.71 429.19,88.17 428.85,88.85C428.51,89.53 427.49,88.78 427.22,88.03C426.95,87.29 426.88,85.05 427.22,84.37Z" fill="#185f8e" opacity="0.60" filter="url(#b1)"/>
</g>
<g filter="url(#b1)">
<path d="M523.44,120.24C523.84,120.18 524.73,120.58 525.07,121.06C525.40,121.53 524.73,122.66 525.47,123.09C526.22,123.53 527.78,123.66 529.54,123.66C531.31,123.66 533.95,123.19 536.06,123.09C538.16,123.00 540.94,122.89 542.17,123.09C543.39,123.30 543.39,123.77 543.39,124.32C543.39,124.86 542.98,125.67 542.17,126.35C541.35,127.03 539.93,127.84 538.50,128.39C537.08,128.93 535.24,129.47 533.62,129.61C531.99,129.74 530.22,129.61 528.73,129.20C527.24,128.79 525.74,127.98 524.66,127.17C523.57,126.35 522.55,125.27 522.21,124.32C521.88,123.37 522.42,122.14 522.62,121.47C522.83,120.79 523.03,120.31 523.44,120.24Z" fill="#1c1c1c"/>
</g>
<g filter="url(#b1)">
<path d="M529.44,259.67C530.37,259.42 530.66,259.25 530.97,260.18C531.27,261.12 531.32,263.07 531.27,265.27C531.22,267.48 530.88,270.71 530.66,273.42C530.44,276.14 530.24,279.62 529.95,281.57C529.66,283.52 530.03,284.32 528.93,285.13C527.83,285.95 525.03,286.07 523.33,286.46C521.63,286.85 519.80,287.70 518.75,287.47C517.70,287.25 517.30,286.46 517.02,285.13C516.73,283.81 516.81,281.65 517.02,279.53C517.22,277.41 517.53,274.61 518.24,272.40C518.95,270.20 520.11,268.08 521.29,266.29C522.48,264.51 524.01,262.81 525.37,261.71C526.72,260.61 528.51,259.93 529.44,259.67Z" fill="#c79ca0" stroke="#b3888c" stroke-width="0.7"/>
<path d="M527.91,262.22C528.22,260.27 530.07,259.84 530.46,261.71C530.85,263.58 530.46,269.69 530.25,273.42C530.05,277.16 529.68,282.25 529.24,284.11C528.79,285.98 527.71,286.41 527.61,284.62C527.51,282.84 528.57,277.16 528.63,273.42C528.68,269.69 527.61,264.17 527.91,262.22Z" fill="#e2c4c6" opacity="0.80" filter="url(#b1)"/>
<path d="M518.75,274.44C519.26,271.38 520.95,269.18 522.31,267.31C523.67,265.44 526.13,261.88 526.89,263.24C527.66,264.60 527.15,271.89 526.89,275.46C526.64,279.02 526.64,282.93 525.37,284.62C524.09,286.32 520.36,287.34 519.26,285.64C518.15,283.94 518.24,277.49 518.75,274.44Z" fill="#cda5a9" opacity="0.60" filter="url(#b1)"/>
</g>
<g filter="url(#b1)">
<path d="M543.55,432.52C544.04,431.40 544.87,431.09 545.99,430.38C547.11,429.67 548.84,428.91 550.27,428.24C551.69,427.58 553.32,426.77 554.54,426.41C555.76,426.06 556.88,425.80 557.60,426.11C558.31,426.41 558.66,427.12 558.82,428.24C558.97,429.36 558.92,431.70 558.51,432.82C558.10,433.94 557.44,434.35 556.37,434.96C555.31,435.57 553.42,435.93 552.10,436.49C550.78,437.05 549.55,437.66 548.44,438.32C547.32,438.98 546.20,440.05 545.38,440.46C544.57,440.87 543.94,441.32 543.55,440.76C543.16,440.20 543.06,438.47 543.06,437.10C543.06,435.73 543.06,433.64 543.55,432.52Z" fill="#a14d12"/>
<path d="M544.77,434.05C545.43,432.98 547.01,431.91 548.44,430.99C549.86,430.08 551.90,429.11 553.32,428.55C554.75,427.99 556.29,427.07 556.98,427.63C557.68,428.19 557.88,430.79 557.47,431.91C557.07,433.03 555.84,433.64 554.54,434.35C553.24,435.06 551.13,435.47 549.66,436.18C548.18,436.90 546.55,438.42 545.69,438.63C544.82,438.83 544.62,438.17 544.47,437.40C544.31,436.64 544.11,435.11 544.77,434.05Z" fill="#e8a05c" opacity="0.90" filter="url(#b1)"/>
<path d="M546.91,434.35C547.32,433.59 548.99,432.37 550.27,431.60C551.54,430.84 553.58,429.92 554.54,429.77C555.51,429.62 555.97,430.18 556.07,430.69C556.17,431.20 556.02,432.16 555.15,432.82C554.29,433.49 552.10,434.10 550.88,434.66C549.66,435.22 548.49,436.23 547.82,436.18C547.16,436.13 546.50,435.11 546.91,434.35Z" fill="#fde6c8" opacity="0.95" filter="url(#b1)"/>
</g>
<line x1="96.80" y1="101.50" x2="123.20" y2="101.50" stroke="#0a0a0a" stroke-width="1.15"/>
<path d="M92.00,101.50 L98.00,104.60 L98.00,98.40 Z" fill="#0a0a0a"/>
<path d="M128.00,101.50 L122.00,104.60 L122.00,98.40 Z" fill="#0a0a0a"/>
<line x1="96.19" y1="272.09" x2="123.61" y2="255.31" stroke="#0a0a0a" stroke-width="1.15"/>
<path d="M92.10,274.60 L98.84,274.11 L95.60,268.82 Z" fill="#0a0a0a"/>
<path d="M127.70,252.80 L124.20,258.58 L120.96,253.29 Z" fill="#0a0a0a"/>
<line x1="96.19" y1="283.41" x2="123.61" y2="300.19" stroke="#0a0a0a" stroke-width="1.15"/>
<path d="M92.10,280.90 L95.60,286.68 L98.84,281.39 Z" fill="#0a0a0a"/>
<path d="M127.70,302.70 L120.96,302.21 L124.20,296.92 Z" fill="#0a0a0a"/>
<line x1="96.80" y1="430.00" x2="123.20" y2="430.00" stroke="#0a0a0a" stroke-width="1.15"/>
<path d="M92.00,430.00 L98.00,433.10 L98.00,426.90 Z" fill="#0a0a0a"/>
<path d="M128.00,430.00 L122.00,433.10 L122.00,426.90 Z" fill="#0a0a0a"/>
<line x1="469.00" y1="101.50" x2="495.20" y2="101.50" stroke="#0a0a0a" stroke-width="1.15"/>
<path d="M464.20,101.50 L470.20,104.60 L470.20,98.40 Z" fill="#0a0a0a"/>
<path d="M500.00,101.50 L494.00,104.60 L494.00,98.40 Z" fill="#0a0a0a"/>
<line x1="469.00" y1="288.00" x2="495.20" y2="288.00" stroke="#0a0a0a" stroke-width="1.15"/>
<path d="M464.20,288.00 L470.20,291.10 L470.20,284.90 Z" fill="#0a0a0a"/>
<path d="M500.00,288.00 L494.00,291.10 L494.00,284.90 Z" fill="#0a0a0a"/>
<line x1="469.00" y1="430.00" x2="495.20" y2="430.00" stroke="#0a0a0a" stroke-width="1.15"/>
<path d="M464.20,430.00 L470.20,433.10 L470.20,426.90 Z" fill="#0a0a0a"/>
<path d="M500.00,430.00 L494.00,433.10 L494.00,426.90 Z" fill="#0a0a0a"/>
<g>
<g stroke="#e3e3e3" stroke-width="0.6" fill="none">
<path d="M259.20,48.30V133.30"/>
<path d="M280.70,48.30V133.30"/>
<path d="M302.20,48.30V133.30"/>
<path d="M323.70,48.30V133.30"/>
<path d="M345.20,48.30V133.30"/>
<path d="M251.90,59.10H356.90"/>
<path d="M251.90,73.70H356.90"/>
<path d="M251.90,88.30H356.90"/>
<path d="M251.90,102.90H356.90"/>
<path d="M251.90,117.50H356.90"/>
<path d="M251.90,132.10H356.90"/>
</g>
<g stroke="#ebebeb" stroke-width="0.5" fill="none">
<path d="M269.95,48.30V133.30"/>
<path d="M291.45,48.30V133.30"/>
<path d="M312.95,48.30V133.30"/>
<path d="M334.45,48.30V133.30"/>
<path d="M355.95,48.30V133.30"/>
<path d="M251.90,51.80H356.90"/>
<path d="M251.90,66.40H356.90"/>
<path d="M251.90,81.00H356.90"/>
<path d="M251.90,95.60H356.90"/>
<path d="M251.90,110.20H356.90"/>
<path d="M251.90,124.80H356.90"/>
</g>
<path d="M256.80,61.40L260.77,63.04L264.73,64.68L268.70,66.32L272.67,67.94L276.63,69.56L280.60,71.17L284.57,72.76L288.53,74.34L292.50,75.88L296.47,77.40L300.43,78.86L304.40,80.27L308.37,81.58L312.33,82.78L316.30,83.86L320.27,84.70L324.23,85.33L328.20,85.81L332.17,86.18L336.13,86.49L340.10,86.75L344.07,86.98L348.03,87.20L352.00,87.40L352.00,105.00L348.03,103.13L344.07,101.27L340.10,99.43L336.13,97.61L332.17,95.85L328.20,94.14L324.23,92.54L320.27,91.10L316.30,89.87L312.33,88.87L308.37,87.99L304.40,87.23L300.43,86.56L296.47,85.95L292.50,85.39L288.53,84.86L284.57,84.36L280.60,83.88L276.63,83.41L272.67,82.96L268.70,82.51L264.73,82.07L260.77,81.63L256.80,81.20Z" fill="#f6a98a" opacity="0.6"/>
<path d="M256.80,107.30L260.77,105.82L264.73,104.33L268.70,102.83L272.67,101.31L276.63,99.78L280.60,98.22L284.57,96.62L288.53,94.98L292.50,93.26L296.47,91.44L300.43,89.48L304.40,87.34L308.37,84.98L312.33,82.42L316.30,79.69L320.27,76.83L324.23,73.88L328.20,70.86L332.17,67.81L336.13,64.72L340.10,61.61L344.07,58.49L348.03,55.35L352.00,52.20L352.00,74.20L348.03,75.68L344.07,77.16L340.10,78.66L336.13,80.18L332.17,81.72L328.20,83.29L324.23,84.90L320.27,86.57L316.30,88.34L312.33,90.23L308.37,92.29L304.40,94.56L300.43,97.04L296.47,99.71L292.50,102.51L288.53,105.42L284.57,108.40L280.60,111.43L276.63,114.50L272.67,117.59L268.70,120.70L264.73,123.82L260.77,126.96L256.80,130.10Z" fill="#8fcdb3" opacity="0.6"/>
<line x1="256.80" y1="71.30" x2="352.00" y2="96.20" stroke="#ee6c3c" stroke-width="0.9"/>
<line x1="256.80" y1="118.70" x2="352.00" y2="63.20" stroke="#3ca77e" stroke-width="0.9"/>
<g fill="#ee6c3c">
<circle cx="256.9" cy="65.0" r="1.05"/>
<circle cx="284.9" cy="58.2" r="1.05"/>
<circle cx="285.3" cy="69.4" r="1.05"/>
<circle cx="284.6" cy="75.2" r="1.05"/>
<circle cx="275.8" cy="83.9" r="1.05"/>
<circle cx="284.6" cy="85.7" r="1.05"/>
<circle cx="303.5" cy="70.2" r="1.05"/>
<circle cx="300.0" cy="73.8" r="1.05"/>
<circle cx="312.6" cy="68.7" r="1.05"/>
<circle cx="313.8" cy="72.9" r="1.05"/>
<circle cx="313.0" cy="77.4" r="1.05"/>
<circle cx="293.4" cy="90.0" r="1.05"/>
<circle cx="291.9" cy="95.8" r="1.05"/>
<circle cx="308.9" cy="83.0" r="1.05"/>
<circle cx="311.6" cy="83.9" r="1.05"/>
<circle cx="313.7" cy="83.6" r="1.05"/>
<circle cx="306.3" cy="85.7" r="1.05"/>
<circle cx="312.4" cy="87.4" r="1.05"/>
<circle cx="314.5" cy="88.6" r="1.05"/>
<circle cx="320.0" cy="90.0" r="1.05"/>
<circle cx="321.7" cy="86.2" r="1.05"/>
<circle cx="323.8" cy="85.7" r="1.05"/>
<circle cx="332.6" cy="88.3" r="1.05"/>
<circle cx="330.0" cy="91.5" r="1.05"/>
<circle cx="337.8" cy="79.2" r="1.05"/>
<circle cx="338.2" cy="90.0" r="1.05"/>
<circle cx="339.6" cy="90.4" r="1.05"/>
<circle cx="310.7" cy="92.7" r="1.05"/>
<circle cx="311.0" cy="94.4" r="1.05"/>
<circle cx="306.3" cy="95.7" r="1.05"/>
<circle cx="316.5" cy="95.7" r="1.05"/>
<circle cx="305.8" cy="102.3" r="1.05"/>
<circle cx="327.7" cy="107.9" r="1.05"/>
<circle cx="326.5" cy="89.2" r="1.05"/>
</g>
<g fill="#3ca77e">
<circle cx="262.5" cy="97.9" r="1.05"/>
<circle cx="266.0" cy="112.8" r="1.05"/>
<circle cx="283.9" cy="114.2" r="1.05"/>
<circle cx="284.4" cy="118.1" r="1.05"/>
<circle cx="288.8" cy="117.2" r="1.05"/>
<circle cx="290.9" cy="104.4" r="1.05"/>
<circle cx="292.3" cy="104.9" r="1.05"/>
<circle cx="288.4" cy="87.8" r="1.05"/>
<circle cx="295.4" cy="82.2" r="1.05"/>
<circle cx="298.9" cy="78.7" r="1.05"/>
<circle cx="304.0" cy="76.0" r="1.05"/>
<circle cx="306.0" cy="80.8" r="1.05"/>
<circle cx="311.6" cy="58.2" r="1.05"/>
<circle cx="315.8" cy="80.6" r="1.05"/>
<circle cx="317.2" cy="80.9" r="1.05"/>
<circle cx="312.1" cy="82.2" r="1.05"/>
<circle cx="327.3" cy="70.2" r="1.05"/>
<circle cx="326.5" cy="79.9" r="1.05"/>
<circle cx="351.9" cy="54.1" r="1.05"/>
<circle cx="294.9" cy="91.8" r="1.05"/>
<circle cx="297.9" cy="91.5" r="1.05"/>
<circle cx="296.7" cy="94.4" r="1.05"/>
<circle cx="297.9" cy="95.7" r="1.05"/>
<circle cx="296.1" cy="99.7" r="1.05"/>
<circle cx="302.8" cy="95.0" r="1.05"/>
<circle cx="304.6" cy="95.0" r="1.05"/>
<circle cx="304.2" cy="91.5" r="1.05"/>
<circle cx="304.6" cy="89.2" r="1.05"/>
<circle cx="307.7" cy="88.3" r="1.05"/>
<circle cx="314.2" cy="88.3" r="1.05"/>
<circle cx="306.3" cy="100.9" r="1.05"/>
<circle cx="308.1" cy="102.0" r="1.05"/>
<circle cx="316.5" cy="102.0" r="1.05"/>
<circle cx="314.2" cy="110.2" r="1.05"/>
<circle cx="323.3" cy="85.7" r="1.05"/>
</g>
<text class="tk" transform="translate(250.0,61.0) scale(0.82,1)" text-anchor="end">0.2</text>
<text class="tk" transform="translate(250.0,76.0) scale(0.82,1)" text-anchor="end">0.1</text>
<text class="tk" transform="translate(250.0,90.0) scale(0.82,1)" text-anchor="end">0.0</text>
<text class="tk" transform="translate(250.0,105.0) scale(0.82,1)" text-anchor="end">-0.1</text>
<text class="tk" transform="translate(250.0,120.0) scale(0.82,1)" text-anchor="end">-0.2</text>
<text class="tk" transform="translate(250.0,134.0) scale(0.82,1)" text-anchor="end">-0.3</text>
<text class="tk" transform="translate(259.2,141.0) scale(0.82,1)" text-anchor="middle">-0.8</text>
<text class="tk" transform="translate(280.7,141.0) scale(0.82,1)" text-anchor="middle">-0.6</text>
<text class="tk" transform="translate(302.4,141.0) scale(0.82,1)" text-anchor="middle">-0.4</text>
<text class="tk" transform="translate(323.9,141.0) scale(0.82,1)" text-anchor="middle">-0.2</text>
<text class="tk" transform="translate(345.2,141.0) scale(0.82,1)" text-anchor="middle">0.0</text>
<text class="ax" x="356.9" y="148.4" text-anchor="end" textLength="74.0" lengthAdjust="spacingAndGlyphs">Prenatal Mn concentration (log)</text>
<text class="ax" transform="translate(237.7,49.8) rotate(-90)" text-anchor="end" textLength="53.2" lengthAdjust="spacingAndGlyphs">Early adulthood iFC (r)</text>
</g>
<g>
<g stroke="#e3e3e3" stroke-width="0.6" fill="none">
<path d="M259.20,180.30V262.60"/>
<path d="M280.70,180.30V262.60"/>
<path d="M302.20,180.30V262.60"/>
<path d="M323.70,180.30V262.60"/>
<path d="M345.20,180.30V262.60"/>
<path d="M252.10,200.70H357.00"/>
<path d="M252.10,225.70H357.00"/>
<path d="M252.10,251.00H357.00"/>
</g>
<g stroke="#ebebeb" stroke-width="0.5" fill="none">
<path d="M269.95,180.30V262.60"/>
<path d="M291.45,180.30V262.60"/>
<path d="M312.95,180.30V262.60"/>
<path d="M334.45,180.30V262.60"/>
<path d="M355.95,180.30V262.60"/>
<path d="M252.10,188.10H357.00"/>
<path d="M252.10,213.20H357.00"/>
<path d="M252.10,238.30H357.00"/>
</g>
<path d="M256.60,226.90L260.57,226.66L264.53,226.42L268.50,226.18L272.47,225.93L276.43,225.67L280.40,225.40L284.37,225.11L288.33,224.80L292.30,224.46L296.27,224.07L300.23,223.61L304.20,223.04L308.17,222.31L312.13,221.38L316.10,220.18L320.07,218.76L324.03,217.20L328.00,215.55L331.97,213.84L335.93,212.11L339.90,210.35L343.87,208.58L347.83,206.79L351.80,205.00L351.80,224.00L347.83,224.11L343.87,224.22L339.90,224.35L335.93,224.49L331.97,224.66L328.00,224.85L324.03,225.10L320.07,225.44L316.10,225.92L312.13,226.62L308.17,227.59L304.20,228.76L300.23,230.09L296.27,231.53L292.30,233.04L288.33,234.60L284.37,236.19L280.40,237.80L276.43,239.43L272.47,241.07L268.50,242.72L264.53,244.38L260.57,246.04L256.60,247.70Z" fill="#f6a98a" opacity="0.6"/>
<path d="M256.60,183.80L260.57,186.92L264.53,190.03L268.50,193.13L272.47,196.22L276.43,199.28L280.40,202.32L284.37,205.33L288.33,208.30L292.30,211.21L296.27,214.05L300.23,216.80L304.20,219.43L308.17,221.93L312.13,224.28L316.10,226.49L320.07,228.59L324.03,230.60L328.00,232.55L331.97,234.46L335.93,236.32L339.90,238.17L343.87,239.99L347.83,241.80L351.80,243.60L351.80,262.40L347.83,259.21L343.87,256.02L339.90,252.86L335.93,249.71L331.97,246.59L328.00,243.50L324.03,240.45L320.07,237.47L316.10,234.58L312.13,231.80L308.17,229.16L304.20,226.67L300.23,224.31L296.27,222.06L292.30,219.91L288.33,217.83L284.37,215.81L280.40,213.83L276.43,211.88L272.47,209.95L268.50,208.04L264.53,206.15L260.57,204.27L256.60,202.40Z" fill="#8fcdb3" opacity="0.6"/>
<line x1="256.60" y1="237.30" x2="351.80" y2="214.50" stroke="#ee6c3c" stroke-width="0.9"/>
<line x1="256.60" y1="193.10" x2="351.80" y2="253.00" stroke="#3ca77e" stroke-width="0.9"/>
<g fill="#ee6c3c">
<circle cx="256.9" cy="248.6" r="1.05"/>
<circle cx="275.8" cy="213.4" r="1.05"/>
<circle cx="284.6" cy="209.5" r="1.05"/>
<circle cx="284.6" cy="230.2" r="1.05"/>
<circle cx="285.3" cy="237.2" r="1.05"/>
<circle cx="284.6" cy="239.3" r="1.05"/>
<circle cx="291.9" cy="223.6" r="1.05"/>
<circle cx="293.4" cy="226.7" r="1.05"/>
<circle cx="295.8" cy="227.9" r="1.05"/>
<circle cx="303.5" cy="219.7" r="1.05"/>
<circle cx="304.6" cy="227.1" r="1.05"/>
<circle cx="304.6" cy="233.2" r="1.05"/>
<circle cx="306.3" cy="232.8" r="1.05"/>
<circle cx="308.9" cy="230.6" r="1.05"/>
<circle cx="310.9" cy="214.4" r="1.05"/>
<circle cx="310.7" cy="233.2" r="1.05"/>
<circle cx="312.4" cy="218.6" r="1.05"/>
<circle cx="314.5" cy="218.6" r="1.05"/>
<circle cx="316.5" cy="213.6" r="1.05"/>
<circle cx="313.7" cy="225.3" r="1.05"/>
<circle cx="313.8" cy="246.7" r="1.05"/>
<circle cx="320.0" cy="229.7" r="1.05"/>
<circle cx="321.7" cy="220.6" r="1.05"/>
<circle cx="323.8" cy="220.1" r="1.05"/>
<circle cx="327.7" cy="218.6" r="1.05"/>
<circle cx="330.0" cy="196.4" r="1.05"/>
<circle cx="332.6" cy="224.4" r="1.05"/>
<circle cx="337.8" cy="209.2" r="1.05"/>
<circle cx="339.2" cy="211.3" r="1.05"/>
<circle cx="337.8" cy="234.6" r="1.05"/>
<circle cx="312.4" cy="232.3" r="1.05"/>
</g>
<g fill="#3ca77e">
<circle cx="266.0" cy="185.0" r="1.05"/>
<circle cx="262.5" cy="196.9" r="1.05"/>
<circle cx="288.8" cy="205.2" r="1.05"/>
<circle cx="285.3" cy="209.2" r="1.05"/>
<circle cx="290.9" cy="211.8" r="1.05"/>
<circle cx="292.6" cy="215.7" r="1.05"/>
<circle cx="296.1" cy="206.9" r="1.05"/>
<circle cx="295.8" cy="210.1" r="1.05"/>
<circle cx="297.9" cy="213.0" r="1.05"/>
<circle cx="295.4" cy="218.6" r="1.05"/>
<circle cx="298.9" cy="217.9" r="1.05"/>
<circle cx="294.9" cy="221.8" r="1.05"/>
<circle cx="302.8" cy="213.9" r="1.05"/>
<circle cx="306.3" cy="207.4" r="1.05"/>
<circle cx="308.1" cy="211.3" r="1.05"/>
<circle cx="283.9" cy="222.7" r="1.05"/>
<circle cx="288.4" cy="223.9" r="1.05"/>
<circle cx="297.9" cy="226.2" r="1.05"/>
<circle cx="304.6" cy="227.9" r="1.05"/>
<circle cx="306.0" cy="221.4" r="1.05"/>
<circle cx="314.2" cy="222.7" r="1.05"/>
<circle cx="316.5" cy="220.4" r="1.05"/>
<circle cx="314.2" cy="226.2" r="1.05"/>
<circle cx="311.6" cy="231.4" r="1.05"/>
<circle cx="312.4" cy="233.7" r="1.05"/>
<circle cx="313.0" cy="235.8" r="1.05"/>
<circle cx="315.8" cy="233.7" r="1.05"/>
<circle cx="314.4" cy="240.5" r="1.05"/>
<circle cx="317.2" cy="239.8" r="1.05"/>
<circle cx="306.0" cy="241.9" r="1.05"/>
<circle cx="304.0" cy="244.1" r="1.05"/>
<circle cx="323.3" cy="229.7" r="1.05"/>
<circle cx="327.3" cy="241.9" r="1.05"/>
<circle cx="326.5" cy="243.7" r="1.05"/>
<circle cx="351.9" cy="238.8" r="1.05"/>
</g>
<text class="tk" transform="translate(250.2,203.0) scale(0.82,1)" text-anchor="end">0.2</text>
<text class="tk" transform="translate(250.2,228.0) scale(0.82,1)" text-anchor="end">0.0</text>
<text class="tk" transform="translate(250.2,253.0) scale(0.82,1)" text-anchor="end">-0.2</text>
<text class="ax" transform="translate(237.7,180.3) rotate(-90)" text-anchor="end" textLength="53.2" lengthAdjust="spacingAndGlyphs">Early adulthood iFC (r)</text>
</g>
<g>
<g stroke="#e3e3e3" stroke-width="0.6" fill="none">
<path d="M259.20,263.40V348.60"/>
<path d="M280.70,263.40V348.60"/>
<path d="M302.20,263.40V348.60"/>
<path d="M323.70,263.40V348.60"/>
<path d="M345.20,263.40V348.60"/>
<path d="M252.10,283.10H357.00"/>
<path d="M252.10,309.40H357.00"/>
<path d="M252.10,335.10H357.00"/>
</g>
<g stroke="#ebebeb" stroke-width="0.5" fill="none">
<path d="M269.95,263.40V348.60"/>
<path d="M291.45,263.40V348.60"/>
<path d="M312.95,263.40V348.60"/>
<path d="M334.45,263.40V348.60"/>
<path d="M355.95,263.40V348.60"/>
<path d="M252.10,270.10H357.00"/>
<path d="M252.10,296.20H357.00"/>
<path d="M252.10,322.30H357.00"/>
<path d="M252.10,348.00H357.00"/>
</g>
<path d="M256.60,268.20L260.57,271.03L264.53,273.86L268.50,276.69L272.47,279.51L276.43,282.32L280.40,285.12L284.37,287.91L288.33,290.67L292.30,293.41L296.27,296.10L300.23,298.73L304.20,301.24L308.17,303.57L312.13,305.63L316.10,307.29L320.07,308.49L324.03,309.43L328.00,310.23L331.97,310.94L335.93,311.61L339.90,312.26L343.87,312.88L347.83,313.50L351.80,314.10L351.80,340.50L347.83,337.37L343.87,334.25L339.90,331.14L335.93,328.05L331.97,324.99L328.00,321.97L324.03,319.04L320.07,316.24L316.10,313.71L312.13,311.64L308.17,309.96L304.20,308.56L300.23,307.34L296.27,306.23L292.30,305.19L288.33,304.19L284.37,303.23L280.40,302.28L276.43,301.35L272.47,300.43L268.50,299.51L264.53,298.60L260.57,297.70L256.60,296.80Z" fill="#f6a98a" opacity="0.6"/>
<path d="M256.60,318.60L260.57,317.89L264.53,317.17L268.50,316.44L272.47,315.71L276.43,314.95L280.40,314.18L284.37,313.38L288.33,312.54L292.30,311.65L296.27,310.70L300.23,309.67L304.20,308.53L308.17,307.27L312.13,305.86L316.10,304.30L320.07,302.63L324.03,300.88L328.00,299.07L331.97,297.23L335.93,295.35L339.90,293.46L343.87,291.55L347.83,289.63L351.80,287.70L351.80,305.10L347.83,305.70L343.87,306.30L339.90,306.91L335.93,307.55L331.97,308.20L328.00,308.88L324.03,309.60L320.07,310.37L316.10,311.23L312.13,312.19L308.17,313.30L304.20,314.57L300.23,315.96L296.27,317.45L292.30,319.02L288.33,320.66L284.37,322.35L280.40,324.07L276.43,325.82L272.47,327.59L268.50,329.38L264.53,331.18L260.57,332.99L256.60,334.80Z" fill="#8fcdb3" opacity="0.6"/>
<line x1="256.60" y1="282.50" x2="351.80" y2="327.30" stroke="#ee6c3c" stroke-width="0.9"/>
<line x1="256.60" y1="326.70" x2="351.80" y2="296.40" stroke="#3ca77e" stroke-width="0.9"/>
<g fill="#ee6c3c">
<circle cx="256.9" cy="284.2" r="1.05"/>
<circle cx="275.8" cy="287.8" r="1.05"/>
<circle cx="284.9" cy="286.2" r="1.05"/>
<circle cx="284.6" cy="289.7" r="1.05"/>
<circle cx="285.3" cy="300.2" r="1.05"/>
<circle cx="284.6" cy="309.3" r="1.05"/>
<circle cx="291.9" cy="320.3" r="1.05"/>
<circle cx="293.4" cy="294.9" r="1.05"/>
<circle cx="295.8" cy="298.8" r="1.05"/>
<circle cx="300.0" cy="287.4" r="1.05"/>
<circle cx="303.5" cy="298.3" r="1.05"/>
<circle cx="304.6" cy="290.9" r="1.05"/>
<circle cx="306.3" cy="308.4" r="1.05"/>
<circle cx="305.8" cy="319.8" r="1.05"/>
<circle cx="308.9" cy="301.9" r="1.05"/>
<circle cx="310.9" cy="314.2" r="1.05"/>
<circle cx="312.4" cy="302.8" r="1.05"/>
<circle cx="312.6" cy="315.4" r="1.05"/>
<circle cx="313.8" cy="275.1" r="1.05"/>
<circle cx="313.0" cy="322.4" r="1.05"/>
<circle cx="315.1" cy="323.3" r="1.05"/>
<circle cx="316.5" cy="294.1" r="1.05"/>
<circle cx="320.0" cy="327.7" r="1.05"/>
<circle cx="321.7" cy="321.6" r="1.05"/>
<circle cx="323.8" cy="322.8" r="1.05"/>
<circle cx="327.7" cy="334.7" r="1.05"/>
<circle cx="330.0" cy="295.8" r="1.05"/>
<circle cx="332.6" cy="292.1" r="1.05"/>
<circle cx="337.8" cy="316.7" r="1.05"/>
<circle cx="337.8" cy="324.7" r="1.05"/>
<circle cx="339.2" cy="341.2" r="1.05"/>
<circle cx="312.4" cy="305.8" r="1.05"/>
</g>
<g fill="#3ca77e">
<circle cx="262.5" cy="315.4" r="1.05"/>
<circle cx="266.0" cy="346.1" r="1.05"/>
<circle cx="283.9" cy="329.1" r="1.05"/>
<circle cx="284.4" cy="317.7" r="1.05"/>
<circle cx="288.4" cy="309.3" r="1.05"/>
<circle cx="288.8" cy="310.2" r="1.05"/>
<circle cx="290.9" cy="328.1" r="1.05"/>
<circle cx="294.9" cy="307.9" r="1.05"/>
<circle cx="295.8" cy="308.9" r="1.05"/>
<circle cx="297.9" cy="310.2" r="1.05"/>
<circle cx="296.1" cy="314.6" r="1.05"/>
<circle cx="297.9" cy="303.2" r="1.05"/>
<circle cx="296.7" cy="304.9" r="1.05"/>
<circle cx="298.9" cy="330.3" r="1.05"/>
<circle cx="302.8" cy="305.8" r="1.05"/>
<circle cx="304.6" cy="307.2" r="1.05"/>
<circle cx="304.0" cy="313.2" r="1.05"/>
<circle cx="306.0" cy="297.9" r="1.05"/>
<circle cx="306.3" cy="309.3" r="1.05"/>
<circle cx="308.1" cy="321.6" r="1.05"/>
<circle cx="311.6" cy="304.9" r="1.05"/>
<circle cx="314.2" cy="300.5" r="1.05"/>
<circle cx="314.7" cy="299.1" r="1.05"/>
<circle cx="312.1" cy="313.7" r="1.05"/>
<circle cx="315.8" cy="316.7" r="1.05"/>
<circle cx="316.5" cy="317.7" r="1.05"/>
<circle cx="317.2" cy="312.5" r="1.05"/>
<circle cx="323.3" cy="316.8" r="1.05"/>
<circle cx="327.3" cy="301.4" r="1.05"/>
<circle cx="351.9" cy="304.1" r="1.05"/>
<circle cx="314.2" cy="307.6" r="1.05"/>
</g>
<text class="tk" transform="translate(250.2,285.0) scale(0.82,1)" text-anchor="end">0.2</text>
<text class="tk" transform="translate(250.2,312.0) scale(0.82,1)" text-anchor="end">0.0</text>
<text class="tk" transform="translate(250.2,337.0) scale(0.82,1)" text-anchor="end">-0.2</text>
<text class="tk" transform="translate(259.2,357.0) scale(0.82,1)" text-anchor="middle">-0.8</text>
<text class="tk" transform="translate(280.7,357.0) scale(0.82,1)" text-anchor="middle">-0.6</text>
<text class="tk" transform="translate(302.4,357.0) scale(0.82,1)" text-anchor="middle">-0.4</text>
<text class="tk" transform="translate(323.9,357.0) scale(0.82,1)" text-anchor="middle">-0.2</text>
<text class="tk" transform="translate(345.2,357.0) scale(0.82,1)" text-anchor="middle">0.0</text>
<text class="ax" x="357.0" y="364.3" text-anchor="end" textLength="74.0" lengthAdjust="spacingAndGlyphs">Prenatal Mn concentration (log)</text>
<text class="ax" transform="translate(237.7,263.4) rotate(-90)" text-anchor="end" textLength="53.2" lengthAdjust="spacingAndGlyphs">Early adulthood iFC (r)</text>
</g>
<g>
<g stroke="#e3e3e3" stroke-width="0.6" fill="none">
<path d="M252.90,379.20V464.80"/>
<path d="M280.30,379.20V464.80"/>
<path d="M307.70,379.20V464.80"/>
<path d="M335.10,379.20V464.80"/>
<path d="M252.10,401.20H357.00"/>
<path d="M252.10,428.50H357.00"/>
<path d="M252.10,455.60H357.00"/>
</g>
<g stroke="#ebebeb" stroke-width="0.5" fill="none">
<path d="M266.60,379.20V464.80"/>
<path d="M294.00,379.20V464.80"/>
<path d="M321.40,379.20V464.80"/>
<path d="M348.80,379.20V464.80"/>
<path d="M252.10,387.60H357.00"/>
<path d="M252.10,414.80H357.00"/>
<path d="M252.10,442.00H357.00"/>
</g>
<path d="M256.60,434.00L260.57,433.59L264.53,433.17L268.50,432.76L272.47,432.33L276.43,431.90L280.40,431.47L284.37,431.02L288.33,430.56L292.30,430.07L296.27,429.56L300.23,429.01L304.20,428.38L308.17,427.65L312.13,426.76L316.10,425.64L320.07,424.19L324.03,422.40L328.00,420.41L331.97,418.29L335.93,416.11L339.90,413.89L343.87,411.64L347.83,409.38L351.80,407.10L351.80,427.50L347.83,427.70L343.87,427.91L339.90,428.13L335.93,428.39L331.97,428.68L328.00,429.04L324.03,429.52L320.07,430.21L316.10,431.24L312.13,432.59L308.17,434.17L304.20,435.92L300.23,437.77L296.27,439.69L292.30,441.65L288.33,443.64L284.37,445.66L280.40,447.68L276.43,449.72L272.47,451.77L268.50,453.82L264.53,455.88L260.57,457.94L256.60,460.00Z" fill="#f6a98a" opacity="0.6"/>
<path d="M256.60,383.70L260.57,386.70L264.53,389.69L268.50,392.68L272.47,395.66L276.43,398.64L280.40,401.61L284.37,404.56L288.33,407.51L292.30,410.42L296.27,413.31L300.23,416.14L304.20,418.89L308.17,421.50L312.13,423.89L316.10,426.00L320.07,427.83L324.03,429.46L328.00,430.95L331.97,432.34L335.93,433.67L339.90,434.96L343.87,436.22L347.83,437.47L351.80,438.70L351.80,456.10L347.83,453.22L343.87,450.36L339.90,447.52L335.93,444.70L331.97,441.92L328.00,439.20L324.03,436.58L320.07,434.10L316.10,431.83L312.13,429.82L308.17,428.11L304.20,426.61L300.23,425.25L296.27,423.97L292.30,422.75L288.33,421.56L284.37,420.39L280.40,419.24L276.43,418.10L272.47,416.97L268.50,415.85L264.53,414.73L260.57,413.61L256.60,412.50Z" fill="#8fcdb3" opacity="0.6"/>
<line x1="256.60" y1="447.00" x2="351.80" y2="417.30" stroke="#ee6c3c" stroke-width="0.9"/>
<line x1="256.60" y1="398.10" x2="351.80" y2="447.40" stroke="#3ca77e" stroke-width="0.9"/>
<g fill="#ee6c3c">
<circle cx="257.0" cy="444.7" r="1.05"/>
<circle cx="280.7" cy="437.2" r="1.05"/>
<circle cx="286.1" cy="416.9" r="1.05"/>
<circle cx="283.9" cy="461.8" r="1.05"/>
<circle cx="289.1" cy="427.3" r="1.05"/>
<circle cx="295.1" cy="424.1" r="1.05"/>
<circle cx="297.2" cy="428.8" r="1.05"/>
<circle cx="299.0" cy="435.0" r="1.05"/>
<circle cx="294.1" cy="444.0" r="1.05"/>
<circle cx="297.7" cy="443.5" r="1.05"/>
<circle cx="297.7" cy="445.8" r="1.05"/>
<circle cx="301.3" cy="430.0" r="1.05"/>
<circle cx="301.5" cy="451.0" r="1.05"/>
<circle cx="308.1" cy="434.1" r="1.05"/>
<circle cx="311.2" cy="429.1" r="1.05"/>
<circle cx="316.9" cy="415.1" r="1.05"/>
<circle cx="320.7" cy="425.0" r="1.05"/>
<circle cx="321.1" cy="442.2" r="1.05"/>
<circle cx="323.0" cy="422.8" r="1.05"/>
<circle cx="323.0" cy="395.2" r="1.05"/>
<circle cx="324.6" cy="426.1" r="1.05"/>
<circle cx="326.6" cy="421.6" r="1.05"/>
<circle cx="327.3" cy="428.8" r="1.05"/>
<circle cx="328.1" cy="447.4" r="1.05"/>
<circle cx="330.4" cy="427.9" r="1.05"/>
<circle cx="330.9" cy="422.8" r="1.05"/>
<circle cx="334.1" cy="423.4" r="1.05"/>
<circle cx="339.5" cy="420.1" r="1.05"/>
<circle cx="344.0" cy="431.4" r="1.05"/>
<circle cx="346.0" cy="395.4" r="1.05"/>
<circle cx="348.9" cy="431.4" r="1.05"/>
<circle cx="315.9" cy="430.0" r="1.05"/>
</g>
<g fill="#3ca77e">
<circle cx="273.2" cy="415.3" r="1.05"/>
<circle cx="295.6" cy="409.0" r="1.05"/>
<circle cx="298.3" cy="411.5" r="1.05"/>
<circle cx="297.7" cy="424.6" r="1.05"/>
<circle cx="298.1" cy="438.4" r="1.05"/>
<circle cx="301.3" cy="421.1" r="1.05"/>
<circle cx="300.4" cy="428.2" r="1.05"/>
<circle cx="306.7" cy="416.6" r="1.05"/>
<circle cx="309.8" cy="415.7" r="1.05"/>
<circle cx="310.3" cy="417.8" r="1.05"/>
<circle cx="309.8" cy="424.6" r="1.05"/>
<circle cx="312.6" cy="409.0" r="1.05"/>
<circle cx="313.0" cy="421.1" r="1.05"/>
<circle cx="314.8" cy="419.6" r="1.05"/>
<circle cx="318.7" cy="417.8" r="1.05"/>
<circle cx="319.4" cy="395.0" r="1.05"/>
<circle cx="322.3" cy="421.1" r="1.05"/>
<circle cx="316.6" cy="433.6" r="1.05"/>
<circle cx="316.0" cy="438.1" r="1.05"/>
<circle cx="317.5" cy="439.9" r="1.05"/>
<circle cx="318.0" cy="446.2" r="1.05"/>
<circle cx="316.0" cy="448.9" r="1.05"/>
<circle cx="321.6" cy="441.3" r="1.05"/>
<circle cx="322.9" cy="433.6" r="1.05"/>
<circle cx="326.4" cy="436.3" r="1.05"/>
<circle cx="328.2" cy="426.8" r="1.05"/>
<circle cx="333.6" cy="429.7" r="1.05"/>
<circle cx="330.0" cy="451.5" r="1.05"/>
<circle cx="331.8" cy="450.1" r="1.05"/>
<circle cx="337.2" cy="434.5" r="1.05"/>
<circle cx="338.6" cy="439.9" r="1.05"/>
<circle cx="342.6" cy="439.9" r="1.05"/>
<circle cx="343.5" cy="444.9" r="1.05"/>
<circle cx="339.9" cy="452.8" r="1.05"/>
<circle cx="341.7" cy="457.8" r="1.05"/>
<circle cx="347.6" cy="448.9" r="1.05"/>
<circle cx="351.9" cy="435.0" r="1.05"/>
</g>
<text class="tk" transform="translate(250.2,404.0) scale(0.82,1)" text-anchor="end">0.2</text>
<text class="tk" transform="translate(250.2,431.0) scale(0.82,1)" text-anchor="end">0.0</text>
<text class="tk" transform="translate(250.2,458.0) scale(0.82,1)" text-anchor="end">-0.2</text>
<text class="tk" transform="translate(252.9,473.0) scale(0.82,1)" text-anchor="middle">-1.50</text>
<text class="tk" transform="translate(280.4,473.0) scale(0.82,1)" text-anchor="middle">-1.25</text>
<text class="tk" transform="translate(307.5,473.0) scale(0.82,1)" text-anchor="middle">-1.00</text>
<text class="tk" transform="translate(335.0,473.0) scale(0.82,1)" text-anchor="middle">-0.75</text>
<text class="ax" x="357.0" y="480.3" text-anchor="end" textLength="74.0" lengthAdjust="spacingAndGlyphs">Prenatal Mn concentration (log)</text>
<text class="ax" transform="translate(237.7,379.2) rotate(-90)" text-anchor="end" textLength="53.2" lengthAdjust="spacingAndGlyphs">Early adulthood iFC (r)</text>
</g>
<g>
<g stroke="#e3e3e3" stroke-width="0.6" fill="none">
<path d="M619.80,47.80V133.40"/>
<path d="M647.20,47.80V133.40"/>
<path d="M674.60,47.80V133.40"/>
<path d="M702.00,47.80V133.40"/>
<path d="M619.00,69.80H723.90"/>
<path d="M619.00,97.10H723.90"/>
<path d="M619.00,124.20H723.90"/>
</g>
<g stroke="#ebebeb" stroke-width="0.5" fill="none">
<path d="M633.50,47.80V133.40"/>
<path d="M660.90,47.80V133.40"/>
<path d="M688.30,47.80V133.40"/>
<path d="M715.70,47.80V133.40"/>
<path d="M619.00,56.20H723.90"/>
<path d="M619.00,83.40H723.90"/>
<path d="M619.00,110.60H723.90"/>
</g>
<path d="M623.50,102.60L627.47,102.19L631.43,101.77L635.40,101.36L639.37,100.93L643.33,100.50L647.30,100.07L651.27,99.62L655.23,99.16L659.20,98.67L663.17,98.16L667.13,97.61L671.10,96.98L675.07,96.25L679.03,95.36L683.00,94.24L686.97,92.79L690.93,91.00L694.90,89.01L698.87,86.89L702.83,84.71L706.80,82.49L710.77,80.24L714.73,77.98L718.70,75.70L718.70,96.10L714.73,96.30L710.77,96.51L706.80,96.73L702.83,96.99L698.87,97.28L694.90,97.64L690.93,98.12L686.97,98.81L683.00,99.84L679.03,101.19L675.07,102.77L671.10,104.52L667.13,106.37L663.17,108.29L659.20,110.25L655.23,112.24L651.27,114.26L647.30,116.28L643.33,118.32L639.37,120.37L635.40,122.42L631.43,124.48L627.47,126.54L623.50,128.60Z" fill="#f6a98a" opacity="0.6"/>
<path d="M623.50,52.30L627.47,55.30L631.43,58.29L635.40,61.28L639.37,64.26L643.33,67.24L647.30,70.21L651.27,73.16L655.23,76.11L659.20,79.02L663.17,81.91L667.13,84.74L671.10,87.49L675.07,90.10L679.03,92.49L683.00,94.60L686.97,96.43L690.93,98.06L694.90,99.55L698.87,100.94L702.83,102.27L706.80,103.56L710.77,104.82L714.73,106.07L718.70,107.30L718.70,124.70L714.73,121.82L710.77,118.96L706.80,116.12L702.83,113.30L698.87,110.52L694.90,107.80L690.93,105.18L686.97,102.70L683.00,100.43L679.03,98.42L675.07,96.71L671.10,95.21L667.13,93.85L663.17,92.57L659.20,91.35L655.23,90.16L651.27,88.99L647.30,87.84L643.33,86.70L639.37,85.57L635.40,84.45L631.43,83.33L627.47,82.21L623.50,81.10Z" fill="#8fcdb3" opacity="0.6"/>
<line x1="623.50" y1="115.60" x2="718.70" y2="85.90" stroke="#ee6c3c" stroke-width="0.9"/>
<line x1="623.50" y1="66.70" x2="718.70" y2="116.00" stroke="#3ca77e" stroke-width="0.9"/>
<g fill="#ee6c3c">
<circle cx="623.9" cy="113.3" r="1.05"/>
<circle cx="647.6" cy="105.8" r="1.05"/>
<circle cx="653.0" cy="85.5" r="1.05"/>
<circle cx="650.8" cy="130.4" r="1.05"/>
<circle cx="656.0" cy="95.9" r="1.05"/>
<circle cx="662.0" cy="92.7" r="1.05"/>
<circle cx="664.1" cy="97.4" r="1.05"/>
<circle cx="665.9" cy="103.6" r="1.05"/>
<circle cx="661.0" cy="112.6" r="1.05"/>
<circle cx="664.6" cy="112.1" r="1.05"/>
<circle cx="664.6" cy="114.4" r="1.05"/>
<circle cx="668.2" cy="98.6" r="1.05"/>
<circle cx="668.4" cy="119.6" r="1.05"/>
<circle cx="675.0" cy="102.7" r="1.05"/>
<circle cx="678.1" cy="97.7" r="1.05"/>
<circle cx="683.8" cy="83.7" r="1.05"/>
<circle cx="687.6" cy="93.6" r="1.05"/>
<circle cx="688.0" cy="110.8" r="1.05"/>
<circle cx="689.9" cy="91.4" r="1.05"/>
<circle cx="689.9" cy="63.8" r="1.05"/>
<circle cx="691.5" cy="94.7" r="1.05"/>
<circle cx="693.5" cy="90.2" r="1.05"/>
<circle cx="694.2" cy="97.4" r="1.05"/>
<circle cx="695.0" cy="116.0" r="1.05"/>
<circle cx="697.3" cy="96.5" r="1.05"/>
<circle cx="697.8" cy="91.4" r="1.05"/>
<circle cx="701.0" cy="92.0" r="1.05"/>
<circle cx="706.4" cy="88.8" r="1.05"/>
<circle cx="710.9" cy="100.1" r="1.05"/>
<circle cx="712.9" cy="64.0" r="1.05"/>
<circle cx="715.8" cy="100.1" r="1.05"/>
<circle cx="682.8" cy="98.6" r="1.05"/>
</g>
<g fill="#3ca77e">
<circle cx="640.1" cy="83.9" r="1.05"/>
<circle cx="662.5" cy="77.6" r="1.05"/>
<circle cx="665.2" cy="80.1" r="1.05"/>
<circle cx="664.6" cy="93.2" r="1.05"/>
<circle cx="665.0" cy="107.1" r="1.05"/>
<circle cx="668.2" cy="89.7" r="1.05"/>
<circle cx="667.3" cy="96.8" r="1.05"/>
<circle cx="673.6" cy="85.2" r="1.05"/>
<circle cx="676.7" cy="84.3" r="1.05"/>
<circle cx="677.2" cy="86.4" r="1.05"/>
<circle cx="676.7" cy="93.2" r="1.05"/>
<circle cx="679.5" cy="77.6" r="1.05"/>
<circle cx="679.9" cy="89.7" r="1.05"/>
<circle cx="681.7" cy="88.2" r="1.05"/>
<circle cx="685.6" cy="86.4" r="1.05"/>
<circle cx="686.3" cy="63.6" r="1.05"/>
<circle cx="689.2" cy="89.7" r="1.05"/>
<circle cx="683.5" cy="102.2" r="1.05"/>
<circle cx="682.9" cy="106.7" r="1.05"/>
<circle cx="684.4" cy="108.5" r="1.05"/>
<circle cx="684.9" cy="114.8" r="1.05"/>
<circle cx="682.9" cy="117.5" r="1.05"/>
<circle cx="688.5" cy="109.9" r="1.05"/>
<circle cx="689.8" cy="102.2" r="1.05"/>
<circle cx="693.3" cy="104.9" r="1.05"/>
<circle cx="695.1" cy="95.4" r="1.05"/>
<circle cx="700.5" cy="98.3" r="1.05"/>
<circle cx="696.9" cy="120.1" r="1.05"/>
<circle cx="698.7" cy="118.7" r="1.05"/>
<circle cx="704.1" cy="103.1" r="1.05"/>
<circle cx="705.5" cy="108.5" r="1.05"/>
<circle cx="709.5" cy="108.5" r="1.05"/>
<circle cx="710.4" cy="113.5" r="1.05"/>
<circle cx="706.8" cy="121.4" r="1.05"/>
<circle cx="708.6" cy="126.4" r="1.05"/>
<circle cx="714.5" cy="117.5" r="1.05"/>
<circle cx="718.8" cy="103.6" r="1.05"/>
</g>
<text class="tk" transform="translate(617.1,72.0) scale(0.82,1)" text-anchor="end">0.2</text>
<text class="tk" transform="translate(617.1,99.0) scale(0.82,1)" text-anchor="end">0.0</text>
<text class="tk" transform="translate(617.1,127.0) scale(0.82,1)" text-anchor="end">-0.2</text>
<text class="tk" transform="translate(619.8,141.0) scale(0.82,1)" text-anchor="middle">-1.50</text>
<text class="tk" transform="translate(647.3,141.0) scale(0.82,1)" text-anchor="middle">-1.25</text>
<text class="tk" transform="translate(674.4,141.0) scale(0.82,1)" text-anchor="middle">-1.00</text>
<text class="tk" transform="translate(701.9,141.0) scale(0.82,1)" text-anchor="middle">-0.75</text>
<text class="ax" x="723.9" y="148.9" text-anchor="end" textLength="76.0" lengthAdjust="spacingAndGlyphs">Postnatal Mn concentration (log)</text>
<text class="ax" transform="translate(605.0,47.8) rotate(-90)" text-anchor="end" textLength="53.2" lengthAdjust="spacingAndGlyphs">Early adulthood iFC (r)</text>
</g>
<g>
<g stroke="#e3e3e3" stroke-width="0.6" fill="none">
<path d="M627.90,237.20V322.20"/>
<path d="M653.55,237.20V322.20"/>
<path d="M679.20,237.20V322.20"/>
<path d="M704.85,237.20V322.20"/>
<path d="M623.00,243.30H728.00"/>
<path d="M623.00,258.17H728.00"/>
<path d="M623.00,273.04H728.00"/>
<path d="M623.00,287.91H728.00"/>
<path d="M623.00,302.78H728.00"/>
<path d="M623.00,317.65H728.00"/>
</g>
<g stroke="#ebebeb" stroke-width="0.5" fill="none">
<path d="M640.70,237.20V322.20"/>
<path d="M666.35,237.20V322.20"/>
<path d="M692.00,237.20V322.20"/>
<path d="M717.65,237.20V322.20"/>
<path d="M623.00,250.70H728.00"/>
<path d="M623.00,265.57H728.00"/>
<path d="M623.00,280.44H728.00"/>
<path d="M623.00,295.31H728.00"/>
<path d="M623.00,310.18H728.00"/>
</g>
<path d="M627.90,241.90L631.87,244.94L635.84,247.96L639.81,250.97L643.78,253.96L647.75,256.92L651.73,259.84L655.70,262.69L659.67,265.46L663.64,268.08L667.61,270.51L671.58,272.68L675.55,274.52L679.52,276.05L683.49,277.39L687.46,278.59L691.43,279.72L695.40,280.80L699.38,281.84L703.35,282.87L707.32,283.87L711.29,284.87L715.26,285.85L719.23,286.83L723.20,287.80L723.20,319.60L719.23,316.36L715.26,313.12L711.29,309.88L707.32,306.66L703.35,303.45L699.38,300.26L695.40,297.08L691.43,293.95L687.46,290.86L683.49,287.85L679.52,284.96L675.55,282.28L671.58,279.90L667.61,277.86L663.64,276.07L659.67,274.48L655.70,273.02L651.73,271.66L647.75,270.36L643.78,269.10L639.81,267.88L635.84,266.67L631.87,265.48L627.90,264.30Z" fill="#f6a98a" opacity="0.6"/>
<path d="M627.90,281.80L631.87,281.08L635.84,280.34L639.81,279.58L643.78,278.79L647.75,277.96L651.73,277.07L655.70,276.11L659.67,275.04L663.64,273.82L667.61,272.43L671.58,270.85L675.55,269.11L679.52,267.21L683.49,265.21L687.46,263.13L691.43,260.98L695.40,258.80L699.38,256.57L703.35,254.33L707.32,252.07L711.29,249.79L715.26,247.50L719.23,245.20L723.20,242.90L723.20,267.30L719.23,268.03L715.26,268.77L711.29,269.51L707.32,270.27L703.35,271.04L699.38,271.83L695.40,272.64L691.43,273.48L687.46,274.37L683.49,275.32L679.52,276.35L675.55,277.49L671.58,278.78L667.61,280.24L663.64,281.88L659.67,283.70L655.70,285.66L651.73,287.73L647.75,289.88L643.78,292.08L639.81,294.32L635.84,296.59L631.87,298.89L627.90,301.20Z" fill="#8fcdb3" opacity="0.6"/>
<line x1="627.90" y1="253.10" x2="723.20" y2="303.70" stroke="#ee6c3c" stroke-width="0.9"/>
<line x1="627.90" y1="291.50" x2="723.20" y2="255.10" stroke="#3ca77e" stroke-width="0.9"/>
<g fill="#ee6c3c">
<circle cx="628.0" cy="259.7" r="1.05"/>
<circle cx="628.7" cy="253.9" r="1.05"/>
<circle cx="631.1" cy="253.9" r="1.05"/>
<circle cx="641.3" cy="250.0" r="1.05"/>
<circle cx="639.1" cy="263.4" r="1.05"/>
<circle cx="651.2" cy="262.9" r="1.05"/>
<circle cx="657.1" cy="245.0" r="1.05"/>
<circle cx="658.0" cy="261.1" r="1.05"/>
<circle cx="662.8" cy="255.7" r="1.05"/>
<circle cx="667.0" cy="253.9" r="1.05"/>
<circle cx="672.9" cy="252.1" r="1.05"/>
<circle cx="672.9" cy="259.9" r="1.05"/>
<circle cx="647.2" cy="269.2" r="1.05"/>
<circle cx="649.4" cy="280.8" r="1.05"/>
<circle cx="656.5" cy="288.0" r="1.05"/>
<circle cx="660.7" cy="285.9" r="1.05"/>
<circle cx="664.3" cy="271.5" r="1.05"/>
<circle cx="667.0" cy="292.9" r="1.05"/>
<circle cx="670.5" cy="297.9" r="1.05"/>
<circle cx="670.0" cy="279.6" r="1.05"/>
<circle cx="675.6" cy="292.5" r="1.05"/>
<circle cx="674.7" cy="272.4" r="1.05"/>
<circle cx="680.4" cy="266.1" r="1.05"/>
<circle cx="684.5" cy="308.6" r="1.05"/>
<circle cx="690.3" cy="306.0" r="1.05"/>
<circle cx="690.8" cy="292.0" r="1.05"/>
<circle cx="693.0" cy="289.3" r="1.05"/>
<circle cx="701.0" cy="265.6" r="1.05"/>
<circle cx="704.3" cy="303.8" r="1.05"/>
<circle cx="711.8" cy="307.8" r="1.05"/>
<circle cx="672.9" cy="279.1" r="1.05"/>
</g>
<g fill="#3ca77e">
<circle cx="629.8" cy="290.7" r="1.05"/>
<circle cx="640.6" cy="293.8" r="1.05"/>
<circle cx="649.4" cy="297.5" r="1.05"/>
<circle cx="654.9" cy="299.3" r="1.05"/>
<circle cx="655.6" cy="303.8" r="1.05"/>
<circle cx="648.1" cy="271.9" r="1.05"/>
<circle cx="646.9" cy="279.1" r="1.05"/>
<circle cx="653.1" cy="286.2" r="1.05"/>
<circle cx="661.2" cy="262.4" r="1.05"/>
<circle cx="664.6" cy="263.8" r="1.05"/>
<circle cx="665.5" cy="245.9" r="1.05"/>
<circle cx="661.2" cy="268.6" r="1.05"/>
<circle cx="661.6" cy="274.6" r="1.05"/>
<circle cx="661.0" cy="282.3" r="1.05"/>
<circle cx="664.3" cy="285.9" r="1.05"/>
<circle cx="664.8" cy="292.0" r="1.05"/>
<circle cx="666.0" cy="279.9" r="1.05"/>
<circle cx="667.8" cy="280.8" r="1.05"/>
<circle cx="668.7" cy="278.5" r="1.05"/>
<circle cx="675.0" cy="267.4" r="1.05"/>
<circle cx="676.3" cy="268.8" r="1.05"/>
<circle cx="678.1" cy="270.1" r="1.05"/>
<circle cx="678.6" cy="268.3" r="1.05"/>
<circle cx="675.9" cy="274.2" r="1.05"/>
<circle cx="676.3" cy="295.6" r="1.05"/>
<circle cx="683.3" cy="292.9" r="1.05"/>
<circle cx="697.1" cy="267.4" r="1.05"/>
<circle cx="698.0" cy="265.6" r="1.05"/>
<circle cx="701.9" cy="262.6" r="1.05"/>
<circle cx="722.9" cy="244.4" r="1.05"/>
<circle cx="663.4" cy="278.1" r="1.05"/>
</g>
<text class="tk" transform="translate(621.1,246.0) scale(0.82,1)" text-anchor="end">0.2</text>
<text class="tk" transform="translate(621.1,260.0) scale(0.82,1)" text-anchor="end">0.1</text>
<text class="tk" transform="translate(621.1,275.0) scale(0.82,1)" text-anchor="end">0.0</text>
<text class="tk" transform="translate(621.1,290.0) scale(0.82,1)" text-anchor="end">-0.1</text>
<text class="tk" transform="translate(621.1,305.0) scale(0.82,1)" text-anchor="end">-0.2</text>
<text class="tk" transform="translate(621.1,320.0) scale(0.82,1)" text-anchor="end">-0.3</text>
<text class="tk" transform="translate(627.9,329.0) scale(0.82,1)" text-anchor="middle">-3.50</text>
<text class="tk" transform="translate(653.5,329.0) scale(0.82,1)" text-anchor="middle">-3.25</text>
<text class="tk" transform="translate(679.2,329.0) scale(0.82,1)" text-anchor="middle">-3.00</text>
<text class="tk" transform="translate(704.8,329.0) scale(0.82,1)" text-anchor="middle">-2.75</text>
<text class="ax" x="728.0" y="338.1" text-anchor="end" textLength="78.6" lengthAdjust="spacingAndGlyphs">Childhood Mn concentration (log)</text>
<text class="ax" transform="translate(609.3,237.2) rotate(-90)" text-anchor="end" textLength="53.2" lengthAdjust="spacingAndGlyphs">Early adulthood iFC (r)</text>
</g>
<g>
<g stroke="#e3e3e3" stroke-width="0.6" fill="none">
<path d="M627.90,373.60V456.60"/>
<path d="M653.55,373.60V456.60"/>
<path d="M679.20,373.60V456.60"/>
<path d="M704.85,373.60V456.60"/>
<path d="M623.00,377.20H728.00"/>
<path d="M623.00,399.20H728.00"/>
<path d="M623.00,421.40H728.00"/>
<path d="M623.00,443.40H728.00"/>
</g>
<g stroke="#ebebeb" stroke-width="0.5" fill="none">
<path d="M640.70,373.60V456.60"/>
<path d="M666.35,373.60V456.60"/>
<path d="M692.00,373.60V456.60"/>
<path d="M717.65,373.60V456.60"/>
<path d="M623.00,388.20H728.00"/>
<path d="M623.00,410.30H728.00"/>
<path d="M623.00,432.40H728.00"/>
<path d="M623.00,454.50H728.00"/>
</g>
<path d="M627.90,398.00L631.87,400.41L635.84,402.80L639.81,405.16L643.78,407.48L647.75,409.73L651.73,411.89L655.70,413.92L659.67,415.79L663.64,417.49L667.61,419.10L671.58,420.63L675.55,422.09L679.52,423.49L683.49,424.85L687.46,426.18L691.43,427.48L695.40,428.76L699.38,430.02L703.35,431.27L707.32,432.51L711.29,433.74L715.26,434.97L719.23,436.19L723.20,437.40L723.20,455.40L719.23,453.19L715.26,450.98L711.29,448.78L707.32,446.59L703.35,444.40L699.38,442.23L695.40,440.06L691.43,437.92L687.46,435.79L683.49,433.70L679.52,431.63L675.55,429.61L671.58,427.65L667.61,425.75L663.64,423.93L659.67,422.21L655.70,420.65L651.73,419.26L647.75,417.99L643.78,416.82L639.81,415.71L635.84,414.65L631.87,413.61L627.90,412.60Z" fill="#f6a98a" opacity="0.6"/>
<path d="M627.90,420.00L631.87,419.61L635.84,419.20L639.81,418.74L643.78,418.21L647.75,417.58L651.73,416.79L655.70,415.74L659.67,414.36L663.64,412.76L667.61,411.01L671.58,409.13L675.55,407.16L679.52,405.12L683.49,403.03L687.46,400.91L691.43,398.76L695.40,396.59L699.38,394.40L703.35,392.20L707.32,389.99L711.29,387.78L715.26,385.56L719.23,383.33L723.20,381.10L723.20,408.50L719.23,409.18L715.26,409.86L711.29,410.55L707.32,411.24L703.35,411.94L699.38,412.65L695.40,413.37L691.43,414.11L687.46,414.87L683.49,415.65L679.52,416.47L675.55,417.34L671.58,418.27L667.61,419.31L663.64,420.46L659.67,421.78L655.70,423.31L651.73,425.16L647.75,427.28L643.78,429.55L639.81,431.94L635.84,434.39L631.87,436.88L627.90,439.40Z" fill="#8fcdb3" opacity="0.6"/>
<line x1="627.90" y1="405.30" x2="723.20" y2="446.40" stroke="#ee6c3c" stroke-width="0.9"/>
<line x1="627.90" y1="429.70" x2="723.20" y2="394.80" stroke="#3ca77e" stroke-width="0.9"/>
<g fill="#ee6c3c">
<circle cx="627.9" cy="405.3" r="1.05"/>
<circle cx="631.2" cy="402.1" r="1.05"/>
<circle cx="629.3" cy="412.6" r="1.05"/>
<circle cx="639.1" cy="412.6" r="1.05"/>
<circle cx="641.6" cy="396.5" r="1.05"/>
<circle cx="646.8" cy="400.9" r="1.05"/>
<circle cx="641.0" cy="422.8" r="1.05"/>
<circle cx="648.4" cy="417.2" r="1.05"/>
<circle cx="649.3" cy="424.2" r="1.05"/>
<circle cx="651.4" cy="422.8" r="1.05"/>
<circle cx="656.3" cy="400.0" r="1.05"/>
<circle cx="658.0" cy="411.4" r="1.05"/>
<circle cx="657.2" cy="425.1" r="1.05"/>
<circle cx="660.1" cy="427.2" r="1.05"/>
<circle cx="662.9" cy="411.4" r="1.05"/>
<circle cx="664.2" cy="423.3" r="1.05"/>
<circle cx="666.8" cy="429.8" r="1.05"/>
<circle cx="669.4" cy="421.1" r="1.05"/>
<circle cx="670.6" cy="432.8" r="1.05"/>
<circle cx="672.9" cy="441.7" r="1.05"/>
<circle cx="672.9" cy="426.8" r="1.05"/>
<circle cx="674.3" cy="422.3" r="1.05"/>
<circle cx="675.2" cy="432.8" r="1.05"/>
<circle cx="676.4" cy="428.1" r="1.05"/>
<circle cx="679.9" cy="431.6" r="1.05"/>
<circle cx="680.8" cy="428.9" r="1.05"/>
<circle cx="684.3" cy="421.4" r="1.05"/>
<circle cx="690.5" cy="432.4" r="1.05"/>
<circle cx="692.7" cy="428.4" r="1.05"/>
<circle cx="701.0" cy="419.3" r="1.05"/>
<circle cx="703.9" cy="439.1" r="1.05"/>
<circle cx="711.8" cy="452.6" r="1.05"/>
<circle cx="659.8" cy="418.9" r="1.05"/>
</g>
<g fill="#3ca77e">
<circle cx="630.0" cy="431.9" r="1.05"/>
<circle cx="640.5" cy="440.9" r="1.05"/>
<circle cx="646.8" cy="440.7" r="1.05"/>
<circle cx="646.6" cy="421.1" r="1.05"/>
<circle cx="649.3" cy="431.2" r="1.05"/>
<circle cx="653.1" cy="423.2" r="1.05"/>
<circle cx="654.9" cy="403.9" r="1.05"/>
<circle cx="661.2" cy="392.5" r="1.05"/>
<circle cx="664.5" cy="377.3" r="1.05"/>
<circle cx="665.0" cy="389.2" r="1.05"/>
<circle cx="660.7" cy="409.7" r="1.05"/>
<circle cx="665.9" cy="409.7" r="1.05"/>
<circle cx="661.5" cy="415.8" r="1.05"/>
<circle cx="665.0" cy="416.7" r="1.05"/>
<circle cx="667.1" cy="414.9" r="1.05"/>
<circle cx="668.5" cy="404.8" r="1.05"/>
<circle cx="661.9" cy="427.7" r="1.05"/>
<circle cx="664.2" cy="439.1" r="1.05"/>
<circle cx="663.3" cy="423.7" r="1.05"/>
<circle cx="666.8" cy="424.2" r="1.05"/>
<circle cx="672.6" cy="413.2" r="1.05"/>
<circle cx="675.6" cy="416.7" r="1.05"/>
<circle cx="675.9" cy="402.1" r="1.05"/>
<circle cx="677.7" cy="412.6" r="1.05"/>
<circle cx="679.1" cy="406.2" r="1.05"/>
<circle cx="683.4" cy="409.7" r="1.05"/>
<circle cx="674.7" cy="424.6" r="1.05"/>
<circle cx="697.1" cy="404.1" r="1.05"/>
<circle cx="698.0" cy="407.0" r="1.05"/>
<circle cx="701.8" cy="407.9" r="1.05"/>
<circle cx="722.9" cy="398.3" r="1.05"/>
<circle cx="655.4" cy="418.9" r="1.05"/>
</g>
<text class="tk" transform="translate(621.1,380.0) scale(0.82,1)" text-anchor="end">0.4</text>
<text class="tk" transform="translate(621.1,402.0) scale(0.82,1)" text-anchor="end">0.2</text>
<text class="tk" transform="translate(621.1,424.0) scale(0.82,1)" text-anchor="end">0.0</text>
<text class="tk" transform="translate(621.1,446.0) scale(0.82,1)" text-anchor="end">-0.2</text>
<text class="tk" transform="translate(627.9,466.0) scale(0.82,1)" text-anchor="middle">-3.50</text>
<text class="tk" transform="translate(653.5,466.0) scale(0.82,1)" text-anchor="middle">-3.25</text>
<text class="tk" transform="translate(679.2,466.0) scale(0.82,1)" text-anchor="middle">-3.00</text>
<text class="tk" transform="translate(704.8,466.0) scale(0.82,1)" text-anchor="middle">-2.75</text>
<text class="ax" x="728.0" y="474.2" text-anchor="end" textLength="78.6" lengthAdjust="spacingAndGlyphs">Childhood Mn concentration (log)</text>
<text class="ax" transform="translate(609.3,373.6) rotate(-90)" text-anchor="end" textLength="53.2" lengthAdjust="spacingAndGlyphs">Early adulthood iFC (r)</text>
</g>
</svg></body></html>
